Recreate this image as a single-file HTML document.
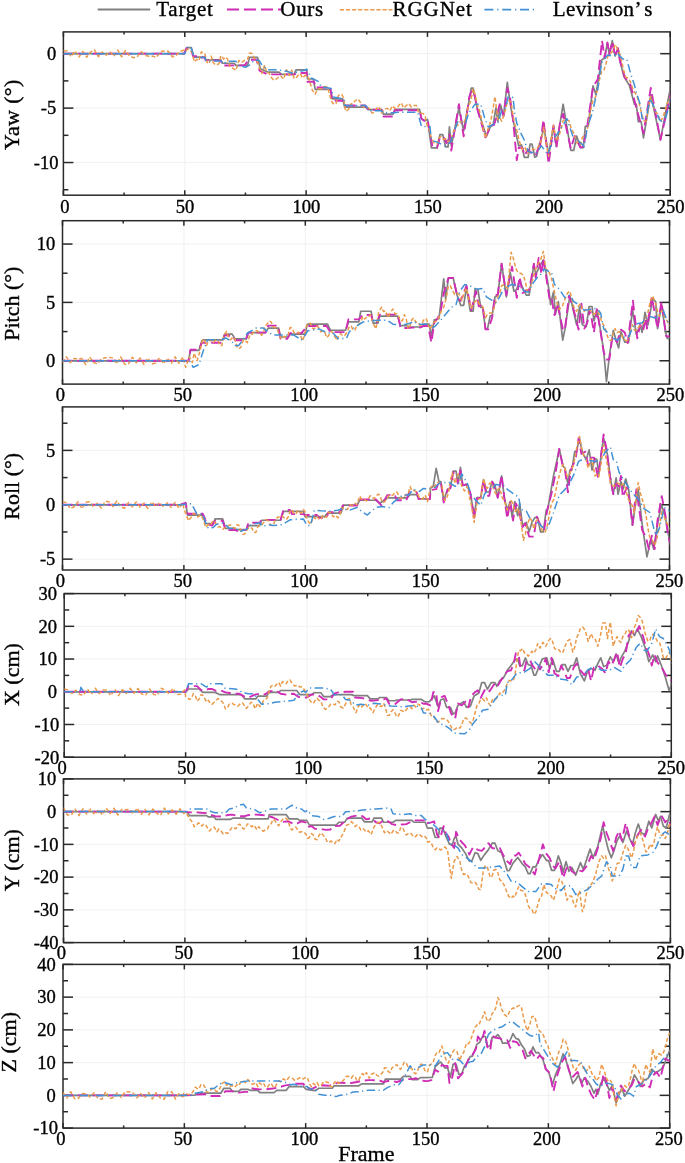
<!DOCTYPE html><html><head><meta charset="utf-8"><style>
html,body{margin:0;padding:0;background:#fff;overflow:hidden}
svg{display:block;will-change:transform}
text{font-family:"Liberation Serif", serif;fill:#000;stroke:#000;stroke-width:0.35px}
.tk{font-size:18.5px}
.lb{font-size:22px}
.lg{font-size:21px}
.fr{fill:none;stroke:#2a2a2a;stroke-width:1.5}
.ti{stroke:#2a2a2a;stroke-width:1.5}
.gr{stroke:#efefef;stroke-width:0.9}
polyline{fill:none;stroke-linejoin:round;stroke-linecap:butt}
.t{stroke:#808080;stroke-width:1.7}
.o{stroke:#cf2db6;stroke-width:1.9;stroke-dasharray:10 4.8}
.r{stroke:#ea9a4a;stroke-width:1.5;stroke-dasharray:4 2.2}
.v{stroke:#4291d6;stroke-width:1.5;stroke-dasharray:8.5 3.4 1.2 3.4}
</style></head><body>
<svg width="685" height="1163" viewBox="0 0 685 1163">
<line x1="97.7" y1="9.6" x2="150.2" y2="9.6" stroke="#808080" stroke-width="2"/>
<text class="lg" x="156.3" y="15.9" letter-spacing="0.7">Target</text>
<line x1="227" y1="9.5" x2="281" y2="9.5" stroke="#cf2db6" stroke-width="2" stroke-dasharray="12 5"/>
<text class="lg" x="280.3" y="15.9" letter-spacing="0.67">Ours</text>
<line x1="339.8" y1="9.7" x2="392.4" y2="9.7" stroke="#ea9a4a" stroke-width="1.6" stroke-dasharray="4.2 1.9"/>
<text class="lg" x="392.6" y="15.9" letter-spacing="0.9">RGGNet</text>
<line x1="484.4" y1="9.7" x2="534" y2="9.7" stroke="#4291d6" stroke-width="1.8" stroke-dasharray="9 3.8 1.2 3.8"/>
<text class="lg" x="552.8" y="15.9" letter-spacing="0.45">Levinson’<tspan dx="3.5">s</tspan></text>
<line class="gr" x1="184.76" y1="31.9" x2="184.76" y2="195.2"/>
<line class="gr" x1="306.12" y1="31.9" x2="306.12" y2="195.2"/>
<line class="gr" x1="427.48" y1="31.9" x2="427.48" y2="195.2"/>
<line class="gr" x1="548.84" y1="31.9" x2="548.84" y2="195.2"/>
<line class="gr" x1="63.4" y1="53.67" x2="670.2" y2="53.67"/>
<line class="gr" x1="63.4" y1="108.11" x2="670.2" y2="108.11"/>
<line class="gr" x1="63.4" y1="162.54" x2="670.2" y2="162.54"/>
<line class="ti" x1="63.4" y1="53.67" x2="73.4" y2="53.67"/>
<line class="ti" x1="660.2" y1="53.67" x2="670.2" y2="53.67"/>
<line class="ti" x1="63.4" y1="108.11" x2="73.4" y2="108.11"/>
<line class="ti" x1="660.2" y1="108.11" x2="670.2" y2="108.11"/>
<line class="ti" x1="63.4" y1="162.54" x2="73.4" y2="162.54"/>
<line class="ti" x1="660.2" y1="162.54" x2="670.2" y2="162.54"/>
<line class="ti" x1="63.4" y1="80.89" x2="68.4" y2="80.89"/>
<line class="ti" x1="665.2" y1="80.89" x2="670.2" y2="80.89"/>
<line class="ti" x1="63.4" y1="135.32" x2="68.4" y2="135.32"/>
<line class="ti" x1="665.2" y1="135.32" x2="670.2" y2="135.32"/>
<line class="ti" x1="63.4" y1="189.76" x2="68.4" y2="189.76"/>
<line class="ti" x1="665.2" y1="189.76" x2="670.2" y2="189.76"/>
<line class="ti" x1="63.4" y1="195.2" x2="63.4" y2="190.2"/>
<line class="ti" x1="63.4" y1="31.9" x2="63.4" y2="36.9"/>
<line class="ti" x1="124.08" y1="195.2" x2="124.08" y2="192.5"/>
<line class="ti" x1="124.08" y1="31.9" x2="124.08" y2="34.6"/>
<line class="ti" x1="184.76" y1="195.2" x2="184.76" y2="190.2"/>
<line class="ti" x1="184.76" y1="31.9" x2="184.76" y2="36.9"/>
<line class="ti" x1="245.44" y1="195.2" x2="245.44" y2="192.5"/>
<line class="ti" x1="245.44" y1="31.9" x2="245.44" y2="34.6"/>
<line class="ti" x1="306.12" y1="195.2" x2="306.12" y2="190.2"/>
<line class="ti" x1="306.12" y1="31.9" x2="306.12" y2="36.9"/>
<line class="ti" x1="366.8" y1="195.2" x2="366.8" y2="192.5"/>
<line class="ti" x1="366.8" y1="31.9" x2="366.8" y2="34.6"/>
<line class="ti" x1="427.48" y1="195.2" x2="427.48" y2="190.2"/>
<line class="ti" x1="427.48" y1="31.9" x2="427.48" y2="36.9"/>
<line class="ti" x1="488.16" y1="195.2" x2="488.16" y2="192.5"/>
<line class="ti" x1="488.16" y1="31.9" x2="488.16" y2="34.6"/>
<line class="ti" x1="548.84" y1="195.2" x2="548.84" y2="190.2"/>
<line class="ti" x1="548.84" y1="31.9" x2="548.84" y2="36.9"/>
<line class="ti" x1="609.52" y1="195.2" x2="609.52" y2="192.5"/>
<line class="ti" x1="609.52" y1="31.9" x2="609.52" y2="34.6"/>
<line class="ti" x1="670.2" y1="195.2" x2="670.2" y2="190.2"/>
<line class="ti" x1="670.2" y1="31.9" x2="670.2" y2="36.9"/>
<rect class="fr" x="63.4" y="31.9" width="606.8" height="163.3"/>
<g clip-path="url(#c0)">
<clipPath id="c0"><rect x="63.4" y="31.9" width="606.8" height="163.3"/></clipPath>
<polyline class="t" points="63.4,53.67 184.27,53.67 186.64,47.59 191.39,47.59 193.76,57.08 204.67,57.08 205.62,59.93 220.8,59.93 222.23,63.25 234.09,63.25 235.99,65.43 247.59,65.4 249.49,57.34 257.55,57.34 260.4,68.72 262.77,69.67 267.52,72.04 278.91,72.04 281.75,74.42 294.09,74.42 295.99,69.86 305,69.86 306.64,69.87 307.59,78.98 313.28,78.98 315.18,89.42 330.36,89.42 332.26,98.91 342.7,98.91 344.6,107.07 365.47,107.07 368.32,109.72 381.61,109.72 383.5,114.09 392.99,114.09 394.89,109.34 419.56,109.34 421.46,118.83 425.26,120.73 427.59,119.34 431.39,147.81 437.08,147.81 439.93,134.53 442.77,134.53 445.62,146.86 448.09,146.86 449.42,126.93 451.31,145.91 458.91,107.96 463.65,130.73 471.24,88.03 473.14,88.03 476.93,107.01 486.42,136.42 490.22,126.93 493.07,125.04 495.91,107.96 497.81,121.24 500.66,105.11 503.5,116.5 507.3,82.34 510.15,103.21 512.99,119.34 518.69,145.91 521.53,144.96 524.38,157.3 528.18,157.3 530.07,144.01 531.97,144.01 534.82,157.3 536.72,156.35 539.56,143.07 540,143.73 543.85,127.35 548.67,154.33 553.49,126.39 556.38,146.62 563.12,104.23 570.83,150.47 573.72,150.47 576.61,136.02 580.47,147.58 583.36,147.58 585.28,126.39 588.18,126.39 592.99,85.92 595.88,94.59 601.66,59.91 604.55,57.98 607.45,42.56 609.37,55.09 612.26,40.64 615.15,56.05 618.04,48.34 619.97,60.87 623.82,76.28 629.61,85.92 634.42,104.23 636.35,104.23 638.28,121.57 641.17,121.57 643.48,137.95 650.8,94.59 660.44,139.88 672,79.18"/>
<polyline class="o" points="63.4,53.67 184.27,53.67 186.64,48.07 190.44,48.07 193.28,56.32 199.45,56.32 199.93,57.55 205.15,57.55 205.62,60.4 220.8,60.4 222.23,65.43 227.45,65.43 244.74,65.4 248.54,59.71 256.61,59.71 259.45,70.62 267.52,74.42 294.09,74.42 298.83,72.99 305,72.99 306.64,72.34 307.59,81.82 314.23,81.82 315.18,87.52 330.36,87.52 332.26,100.8 343.65,100.8 344.6,105.55 365.47,105.55 368.32,109.72 381.61,109.72 383.5,116.55 392.99,116.55 394.89,110.29 419.56,110.29 421.46,118.83 425.26,121.68 427.59,120.29 432.34,145.91 437.08,147.81 439.93,137.37 443.72,137.37 446.57,143.07 449.42,134.53 451.31,150.66 458.91,104.16 463.65,136.42 469.34,96.57 472.19,89.93 475.04,96.57 476.93,107.96 485.47,137.37 491.17,125.04 494.01,125.04 496.86,115.55 499.71,104.16 503.5,115.55 507.3,88.03 510.15,98.47 512.99,119.34 516.79,160.15 518.69,147.81 522.48,147.81 524.38,155.4 528.18,149.71 531.97,153.5 535.77,155.4 539.56,144.01 540,146.62 543.47,119.64 548.67,163.96 553.49,125.42 556.38,147.58 560.23,121.57 563.12,113.86 570.83,148.55 574.69,136.02 580.47,147.58 583.36,146.62 587.21,126.39 592.99,86.88 597.81,79.18 602.05,40.64 604.55,57.98 607.45,42.56 609.37,54.12 612.26,41.6 615.15,56.05 618.04,48.34 619.97,60.87 624.79,77.25 630.57,84.96 636.35,108.08 643.48,133.13 650.8,87.85 660.44,139.88 672,88.81"/>
<polyline class="r" points="63.4,50.77 67.28,51.01 71.17,56.64 75.05,50.89 78.93,57.15 82.82,51.41 86.7,57.19 90.58,52.07 94.47,49.76 98.35,56.71 102.24,52.13 106.12,55.32 110,51.57 113.89,56.33 117.77,50.06 121.65,56.77 125.54,50.51 129.42,55.87 133.3,57.66 137.19,56.94 141.07,51.6 144.95,55.35 148.84,56.17 152.72,56.14 156.6,57.29 160.49,51.65 164.37,51 168.26,51.18 172.14,56.74 176.02,55.84 179.91,51.34 183.79,50.27 185.69,51.39 187.59,49.01 190.44,50.44 192.34,53.28 194.23,61.82 196.61,59.42 198.98,60.88 201.35,51.86 204.67,53.28 207.52,63.72 209.42,62.26 211.31,56.13 213.21,62.77 216.06,65.15 218.91,63.72 220.8,55.66 223.65,58.98 225.55,57.08 227.45,58.98 230.29,67.52 233.14,68.47 235.99,70.36 238.83,60.4 241.68,62.45 244.53,60.4 245.69,60.18 247.59,59.23 249.49,53.07 252.34,53.54 254.23,58.28 257.08,61.13 259.45,67.77 261.82,73.47 264.67,64.93 266.57,72.52 268.94,72.96 271.31,77.26 273.53,80.11 275.74,79.32 277.96,77.74 280.8,76.02 283.65,79.16 286.5,69.67 289.34,75.36 291.72,70.15 294.09,78.21 295.99,78.27 297.88,75.36 300.26,73.61 302.63,78.11 305,75.36 307.24,75.39 309.49,80.88 312.34,90.16 315.18,94.16 317.08,89.86 318.98,88.47 321.82,88.92 324.67,86.57 326.57,86.63 328.47,90.36 331.31,100.8 333.69,104.33 336.06,103.65 337.96,96.36 339.85,94.16 341.75,94.48 343.65,97.96 345.55,111.24 348.39,109.67 351.24,103.65 353.14,103.63 355.04,100.8 357.88,99 360.73,102.7 363.58,107.42 366.42,107.45 369.27,108.28 372.12,113.14 374.96,111.96 377.81,106.5 379.71,108.07 381.61,113.14 384.45,108.99 387.3,108.39 389.83,110.81 392.36,105.77 394.89,108.39 396.79,108.57 398.69,105.55 401.22,102.89 403.75,107.97 406.28,105.55 408.81,103.56 411.34,106.98 413.87,105.55 416.4,105.5 418.93,113.01 421.46,113.14 423.36,113.64 425.26,116.93 427.3,126.22 429.34,129.5 431.39,138.32 434.23,143.41 437.08,144.01 438.98,138.11 440.88,136.42 443.41,139.54 445.94,138.71 448.47,142.12 450.84,139.72 453.21,132.63 455.58,127.01 457.96,125.04 460.49,121.3 463.02,123.43 465.55,119.34 468.08,107.26 470.61,101.42 473.14,88.98 475.04,94.09 476.93,104.16 478.83,108.58 480.73,115.55 483.1,128.53 485.47,138.32 487.85,129.31 490.22,123.14 492.59,111.25 494.96,96.57 497.81,119.34 499.71,117.58 501.61,121.24 504.45,113.82 507.3,102.26 509.2,100.51 511.09,102.26 512.99,115.16 514.89,125.04 516.79,130.08 518.69,138.32 520.58,145.55 522.48,149.71 525.01,147.65 527.54,153.74 530.07,151.61 532.92,149.04 535.77,149.71 538.61,146.47 541.46,140.22 543.85,127.35 546.26,143.63 548.67,156.26 551.08,139.21 553.49,125.42 556.38,140.84 558.63,136.79 560.88,129.44 563.12,120.61 566.01,119.39 568.91,120.61 571.31,128.55 573.72,133.13 576.61,142.77 578.54,141.53 580.47,144.69 582.39,137.36 584.32,135.06 586.25,132.52 588.18,125.42 590.58,110.53 592.99,100.37 595.4,97.35 597.81,88.81 599.74,77.95 601.66,71.47 603.59,71.06 605.52,65.69 607.45,57.28 609.37,54.12 612.26,51.68 615.15,44.49 618.04,50.27 619.97,54.04 621.9,61.83 623.82,71.35 625.75,77.25 628.16,78.12 630.57,82.07 633.46,90.88 636.35,94.59 639.24,103.56 642.13,115.79 644.06,120.89 645.99,121.57 648.39,106.91 650.8,96.52 653.21,105.6 655.62,111.93 658.03,114.17 660.44,121.57 662.85,117.35 665.26,110.01 667.5,102.29 669.75,101.02 672,92.66"/>
<polyline class="v" points="63.4,53.67 184.74,53.67 187.12,47.59 190.91,47.12 194.23,57.55 205.15,57.55 206.09,60.88 220.8,60.88 223.65,63.72 227.45,61.35 235.99,61.35 237.88,65.62 245.69,67.3 250.44,64.45 254.23,60.18 258.98,60.18 262.77,66.35 268.47,69.86 277.96,69.86 287.45,71.57 293.14,73.47 296.93,72.04 305,70.15 306.64,69.11 311.39,78.03 318.98,81.82 320.88,86.57 331.31,88.47 333.21,97.01 343.65,98.91 345.55,105.55 365.47,105.55 370.22,110.86 381.61,110.86 383.5,112.76 394.89,112.76 396.79,112.19 417.66,112.19 421.46,126.42 430,126.8 431.39,140.22 437.08,142.12 444.67,145.91 450.36,142.12 457.96,121.24 465.55,123.14 468.39,113.65 475.04,104.16 480.73,104.16 484.53,117.45 488.32,126.93 494.01,124.09 497.81,123.14 501.61,110.8 505.4,107.96 508.25,96.57 512.99,97.52 514.89,113.65 516.79,123.14 520.58,132.63 524.38,140.22 528.18,151.61 535.77,153.5 541.46,145.91 547.71,154.33 553.49,138.91 559.27,131.2 566.98,118.68 573.72,138.91 576.61,138.91 584.32,146.62 587.21,127.35 592.03,113.86 597.81,88.81 601.66,62.8 607.45,55.09 613.23,56.05 617.08,53.16 622.86,58.94 626.72,58.94 630.57,73.39 634.42,84.96 636.35,92.66 640.2,104.23 642.13,118.68 645.99,118.68 649.84,98.45 653.69,106.15 659.47,119.64 664.29,123.5 672,94.59"/>
</g>
<text class="tk" x="56.2" y="59.97" text-anchor="end">0</text>
<text class="tk" x="56.2" y="114.41" text-anchor="end">-5</text>
<text class="tk" x="58.4" y="168.84" text-anchor="end">-10</text>
<text class="tk" x="64.8" y="213.1" text-anchor="middle">0</text>
<text class="tk" x="185.06" y="213.1" text-anchor="middle">50</text>
<text class="tk" x="306.42" y="213.1" text-anchor="middle">100</text>
<text class="tk" x="427.78" y="213.1" text-anchor="middle">150</text>
<text class="tk" x="549.14" y="213.1" text-anchor="middle">200</text>
<text class="tk" x="670.5" y="213.1" text-anchor="middle">250</text>
<text class="lb" transform="translate(19.2,114.7) rotate(-90)" letter-spacing="0.35" text-anchor="middle">Yaw (°)</text>
<line class="gr" x1="183.9" y1="220.7" x2="183.9" y2="384.1"/>
<line class="gr" x1="305.3" y1="220.7" x2="305.3" y2="384.1"/>
<line class="gr" x1="426.7" y1="220.7" x2="426.7" y2="384.1"/>
<line class="gr" x1="548.1" y1="220.7" x2="548.1" y2="384.1"/>
<line class="gr" x1="62.5" y1="360.76" x2="669.5" y2="360.76"/>
<line class="gr" x1="62.5" y1="302.4" x2="669.5" y2="302.4"/>
<line class="gr" x1="62.5" y1="244.04" x2="669.5" y2="244.04"/>
<line class="ti" x1="62.5" y1="360.76" x2="72.5" y2="360.76"/>
<line class="ti" x1="659.5" y1="360.76" x2="669.5" y2="360.76"/>
<line class="ti" x1="62.5" y1="302.4" x2="72.5" y2="302.4"/>
<line class="ti" x1="659.5" y1="302.4" x2="669.5" y2="302.4"/>
<line class="ti" x1="62.5" y1="244.04" x2="72.5" y2="244.04"/>
<line class="ti" x1="659.5" y1="244.04" x2="669.5" y2="244.04"/>
<line class="ti" x1="62.5" y1="331.58" x2="67.5" y2="331.58"/>
<line class="ti" x1="664.5" y1="331.58" x2="669.5" y2="331.58"/>
<line class="ti" x1="62.5" y1="273.22" x2="67.5" y2="273.22"/>
<line class="ti" x1="664.5" y1="273.22" x2="669.5" y2="273.22"/>
<line class="ti" x1="62.5" y1="384.1" x2="62.5" y2="379.1"/>
<line class="ti" x1="62.5" y1="220.7" x2="62.5" y2="225.7"/>
<line class="ti" x1="123.2" y1="384.1" x2="123.2" y2="381.4"/>
<line class="ti" x1="123.2" y1="220.7" x2="123.2" y2="223.4"/>
<line class="ti" x1="183.9" y1="384.1" x2="183.9" y2="379.1"/>
<line class="ti" x1="183.9" y1="220.7" x2="183.9" y2="225.7"/>
<line class="ti" x1="244.6" y1="384.1" x2="244.6" y2="381.4"/>
<line class="ti" x1="244.6" y1="220.7" x2="244.6" y2="223.4"/>
<line class="ti" x1="305.3" y1="384.1" x2="305.3" y2="379.1"/>
<line class="ti" x1="305.3" y1="220.7" x2="305.3" y2="225.7"/>
<line class="ti" x1="366" y1="384.1" x2="366" y2="381.4"/>
<line class="ti" x1="366" y1="220.7" x2="366" y2="223.4"/>
<line class="ti" x1="426.7" y1="384.1" x2="426.7" y2="379.1"/>
<line class="ti" x1="426.7" y1="220.7" x2="426.7" y2="225.7"/>
<line class="ti" x1="487.4" y1="384.1" x2="487.4" y2="381.4"/>
<line class="ti" x1="487.4" y1="220.7" x2="487.4" y2="223.4"/>
<line class="ti" x1="548.1" y1="384.1" x2="548.1" y2="379.1"/>
<line class="ti" x1="548.1" y1="220.7" x2="548.1" y2="225.7"/>
<line class="ti" x1="608.8" y1="384.1" x2="608.8" y2="381.4"/>
<line class="ti" x1="608.8" y1="220.7" x2="608.8" y2="223.4"/>
<line class="ti" x1="669.5" y1="384.1" x2="669.5" y2="379.1"/>
<line class="ti" x1="669.5" y1="220.7" x2="669.5" y2="225.7"/>
<rect class="fr" x="62.5" y="220.7" width="607" height="163.4"/>
<g clip-path="url(#c1)">
<clipPath id="c1"><rect x="62.5" y="220.7" width="607" height="163.4"/></clipPath>
<polyline class="t" points="62.5,360.8 180,360.8 188.54,360.73 190.44,350.29 198.98,350.29 201.82,340.8 203.72,339.85 222.7,339.85 224.6,334.16 232.19,334.16 235.04,338.91 246.42,338.91 248.32,332.64 265.4,332.64 268.25,328.09 278.69,328.09 280.58,337.01 288.18,337.01 290.07,334.16 305.26,334.16 307.15,324.67 307.59,324.16 327.52,324.16 330.36,330.23 345.55,330.23 348.39,321.88 358.83,321.88 360.73,311.26 371.17,311.26 373.07,323.21 377.81,323.21 379.71,316.19 397.74,316.19 400.58,325.68 406.28,325.68 410.07,327.01 421.46,327.01 423.36,324.16 429.05,324.16 431.39,335.84 434.23,319.71 438.98,318.76 443.72,278.91 445.62,298.83 448.47,277.96 453.21,277.96 457.01,295.04 460.8,305.47 463.65,305.47 466.5,287.45 470.29,311.17 473.14,311.17 475.04,289.34 477.88,289.34 480.73,307.37 482.63,307.37 485.47,329.2 487.37,329.2 490.22,315.91 492.12,315.91 494.96,296.93 497.81,295.04 501.61,263.72 506.35,296.93 510.15,272.26 513.94,291.24 516.79,289.34 519.64,279.85 522.48,287.45 526.28,295.04 529.12,295.04 533.87,264.67 535.77,274.16 539.56,266.57 543.36,259.93 545.78,270.83 548.67,288.18 550.6,304.55 553.49,292.03 555.42,314.19 558.31,301.66 562.74,340.2 565.05,328.64 569.87,295.88 571.8,303.59 576.61,324.79 579.5,307.45 582.39,324.79 586.25,326.72 589.14,306.48 592.03,306.48 593.96,320.93 596.85,309.37 599.74,325.75 603.59,349.84 606.48,381.64 609.37,355.62 613.23,330.57 616.12,340.2 618.62,347.91 620.93,331.53 624.79,342.13 628.64,342.13 632.5,309.37 636.35,334.42 640.2,324.79 642.13,332.5 645.02,312.26 647.91,324.79 652.73,298.77 655.62,301.66 657.55,328.64 661.4,303.59 665.26,330.57 667.18,338.28 672,338.28"/>
<polyline class="o" points="62.5,360.8 180,360.8 188.54,360.73 190.44,349.72 198.98,349.72 201.82,342.7 222.7,342.7 224.6,335.11 233.14,336.06 235.04,340.23 245.47,340.23 248.32,332.64 265.4,332.64 268.25,325.62 277.74,325.62 280.58,338.91 287.23,338.91 290.07,333.21 301.46,333.21 305.26,328.47 307.59,326.06 326.57,326.06 330.36,332.13 345.55,332.13 348.39,319.42 358.83,319.42 362.63,315.05 371.17,315.05 373.07,322.26 376.86,322.26 379.71,314.67 397.74,314.67 400.58,327.96 408.18,327.96 411.97,327.58 419.56,327.58 423.36,326.06 428.1,326.06 431.39,342.48 434.23,322.55 438.03,317.81 440.88,310.22 443.72,293.14 448.47,277.96 453.21,277.96 457.96,298.83 460.8,300.73 463.65,293.14 466.5,285.55 471.24,310.22 475.99,291.24 478.83,306.42 482.63,304.53 485.47,329.2 488.32,329.2 492.12,317.81 494.96,295.99 497.81,294.09 501.61,263.72 506.35,295.04 512.04,266.57 516.79,297.88 519.64,277.01 522.48,293.14 526.28,290.29 529.12,290.29 533.87,263.72 535.77,277.96 538.61,258.03 541.46,274.16 543.36,258.03 546.74,280.47 549.64,299.74 551.56,297.81 554.45,315.15 557.34,303.59 563.12,330.57 565.05,328.64 568.91,295.88 571.8,303.59 575.65,317.08 578.54,329.61 581.43,303.59 584.32,328.64 587.21,322.86 590.1,309.37 593.96,332.5 596.85,309.37 600.7,332.5 603.59,351.77 606.48,359.47 609.37,359.47 612.26,337.31 614.19,338.28 617.08,342.13 620.93,329.61 624.79,332.5 627.68,343.09 632.88,300.7 637.31,338.28 640.2,324.79 643.09,330.57 645.99,318.04 646.95,328.64 651.77,296.85 657.55,328.64 661.4,301.66 666.22,336.35 672,336.35"/>
<polyline class="r" points="62.5,362.65 66.38,356.8 70.27,362.6 74.15,358.44 78.03,358.72 81.92,358.5 85.8,364.63 89.68,356.99 93.57,362.42 97.45,363.77 101.34,358.82 105.22,357.84 109.1,357.37 112.99,357.88 116.87,363.83 120.75,356.91 124.64,364.25 128.52,363.93 132.4,357.24 136.29,362.76 140.17,357.97 144.05,364.61 147.94,358.01 151.82,363.95 155.7,363.07 159.59,357.84 163.47,363.79 167.36,358.22 171.24,363.62 175.12,356.81 179.01,363.38 182.89,356.98 185.69,367.37 189.49,356.93 192.34,362.63 194.23,353.14 197.08,360.73 199.93,351.24 202.77,338.91 204.67,340.71 206.57,345.55 208.47,340.02 210.36,339.85 212.26,343.06 214.16,341.75 216.06,339.72 217.96,340.8 219.85,345.48 221.75,345.55 224.12,335.68 226.5,331.31 228.39,337.09 230.29,339.85 233.14,337.01 235.04,339.32 236.93,346.5 238.83,348.93 240.73,347.45 242.63,341.43 244.53,339.85 247.37,342.7 250.22,334.16 252.12,334.27 254.01,331.31 256.86,330.58 259.71,333.21 261.61,335.25 263.5,332.26 265.4,325.73 267.3,323.72 269.2,320.94 271.09,321.82 272.99,326.55 274.89,327.52 276.79,328.09 278.69,333.21 280.58,338 282.48,338.91 284.38,336.2 286.28,337.01 288.18,334.59 290.07,327.52 291.97,327.79 293.87,332.26 296.24,333.52 298.61,332.26 300.51,335.23 302.41,340.8 304.31,335.98 306.2,326.57 308.32,323.11 310.44,323.21 312.34,328.02 314.23,328.91 316.61,325.83 318.98,327.96 320.88,331.97 322.77,330.8 324.67,331.83 326.57,337.45 328.47,335.93 330.36,331.75 332.26,331.9 334.16,335.55 337.01,340.29 338.91,334.37 340.8,333.65 342.7,335.99 344.6,335.55 347.45,331.75 349.34,326.47 351.24,326.06 353.14,330.42 355.04,329.85 356.93,325.52 358.83,324.16 360.73,322.75 362.63,316.57 364.53,318.96 366.42,317.52 368.32,317.52 370.22,314.67 373.07,323.21 375.91,328.91 378.76,311.82 381.61,307.08 383.5,311.59 385.4,310.88 388.25,317.52 390.62,311.94 392.99,308.98 394.89,313.65 396.79,313.72 398.69,316.23 400.58,321.31 402.48,320.51 404.38,314.67 406.28,319.09 408.18,328.91 410.07,325.69 411.97,319.42 413.87,318.07 415.77,322.26 417.66,321.98 419.56,325.11 421.46,324.98 423.36,320.36 426.2,318.47 428.32,325.05 430.44,329.2 432.81,322.83 435.18,321.61 437.55,320.4 439.93,314.96 441.82,309.59 443.72,307.37 446.09,298.72 448.47,285.55 450.36,285.86 452.26,290.29 454.64,294.41 457.01,293.14 459.38,294.65 461.75,300.73 464.12,292.72 466.5,288.39 468.87,299.91 471.24,308.32 474.09,302.61 476.93,299.78 479.78,304.85 482.63,306.42 485.47,317.81 487.85,313.52 490.22,313.07 492.12,312.98 494.01,308.32 495.91,300.84 497.81,296.93 499.71,293.32 501.61,285.55 504.45,284.9 507.3,288.39 509.2,272.65 511.09,252.34 513.47,258.82 515.84,268.47 518.21,272.77 520.58,273.21 523.43,275.11 525.33,281.91 527.23,291.24 529.6,289.28 531.97,281.75 534.82,271.31 537.66,264.67 540.51,259.66 543.36,251.39 545.78,268.91 548.67,271 551.56,278.54 554.45,292.03 556.86,302.64 559.27,309.37 562.16,306.75 565.05,298.77 567.46,293.06 569.87,291.07 572.76,303.59 574.69,309.08 576.61,311.3 578.54,306.02 580.47,303.59 582.39,310.02 584.32,311.3 587.21,308.51 590.1,310.34 592.99,314 595.88,313.23 597.81,311.43 599.74,315.15 601.66,321.71 603.59,324.79 605.52,329.13 607.45,336.35 609.37,340.14 611.3,340.2 613.23,332.84 615.15,328.64 617.08,332.56 619.01,331.53 620.93,333.33 622.86,338.28 625.75,340.69 628.64,340.2 630.57,330.36 632.5,324.79 634.42,330.32 636.35,330.57 639.24,326.42 642.13,324.79 645.02,320.55 647.91,312.26 650.32,301.4 652.73,295.88 655.62,303.59 657.55,311.42 659.47,316.12 661.4,311.01 663.33,311.3 665.26,318.81 667.18,320.93 669.59,325.47 672,325.75"/>
<polyline class="v" points="62.5,360.8 180,360.8 189.49,360.73 193.28,367.37 198.98,364.53 202.77,352.19 207.52,339.85 221.75,339.85 225.55,337.96 232.19,341.75 235.04,345.55 238.83,345.55 247.37,333.21 255.91,328.09 263.5,328.09 267.3,331.31 272.99,335.11 293.87,335.11 301.46,339.85 305.26,335.11 307.59,330.8 318.98,328.91 324.67,331.75 329.42,332.7 332.26,332.13 337.96,338.39 346.5,338.39 349.34,331.75 355.04,327.01 362.63,322.26 366.42,321.31 377.81,320.36 387.3,320.36 392.99,324.16 402.48,325.11 410.07,323.21 413.87,321.31 417.66,324.16 430,324.16 431.39,328.25 435.18,326.35 442.77,317.81 451.31,307.37 456.06,304.53 459.85,291.24 464.6,284.6 469.34,285.55 476.93,289.34 482.63,288.39 486.42,296.93 495.91,302.63 499.71,296.93 503.5,289.34 511.09,284.6 518.69,285.55 524.38,291.24 528.18,292.19 531.97,284.6 537.66,277.01 543.36,272.26 543.85,268.91 551.56,272.76 554.45,284.32 559.27,289.14 565.05,297.81 569.87,294.92 573.72,301.66 578.54,304.55 584.32,310.34 590.1,309.37 594.92,308.41 597.81,309.37 600.7,313.23 603.59,328.64 608.41,333.46 613.23,338.28 617.08,340.2 620.93,337.31 628.64,337.31 632.5,327.68 636.35,323.82 642.13,322.86 647.91,316.12 655.62,318.04 663.33,310.34 667.18,320.93 672,325.75"/>
</g>
<text class="tk" x="55.3" y="367.06" text-anchor="end">0</text>
<text class="tk" x="55.3" y="308.7" text-anchor="end">5</text>
<text class="tk" x="55.3" y="250.34" text-anchor="end">10</text>
<text class="tk" x="60.3" y="400.8" text-anchor="middle">0</text>
<text class="tk" x="182.8" y="400.8" text-anchor="middle">50</text>
<text class="tk" x="304.2" y="400.8" text-anchor="middle">100</text>
<text class="tk" x="425.6" y="400.8" text-anchor="middle">150</text>
<text class="tk" x="547" y="400.8" text-anchor="middle">200</text>
<text class="tk" x="670.25" y="400.8" text-anchor="middle">250</text>
<text class="lb" transform="translate(19.2,303.7) rotate(-90)" letter-spacing="0" text-anchor="middle">Pitch (°)</text>
<line class="gr" x1="183.9" y1="406.9" x2="183.9" y2="570"/>
<line class="gr" x1="305.3" y1="406.9" x2="305.3" y2="570"/>
<line class="gr" x1="426.7" y1="406.9" x2="426.7" y2="570"/>
<line class="gr" x1="548.1" y1="406.9" x2="548.1" y2="570"/>
<line class="gr" x1="62.5" y1="559.13" x2="669.5" y2="559.13"/>
<line class="gr" x1="62.5" y1="504.76" x2="669.5" y2="504.76"/>
<line class="gr" x1="62.5" y1="450.39" x2="669.5" y2="450.39"/>
<line class="ti" x1="62.5" y1="559.13" x2="72.5" y2="559.13"/>
<line class="ti" x1="659.5" y1="559.13" x2="669.5" y2="559.13"/>
<line class="ti" x1="62.5" y1="504.76" x2="72.5" y2="504.76"/>
<line class="ti" x1="659.5" y1="504.76" x2="669.5" y2="504.76"/>
<line class="ti" x1="62.5" y1="450.39" x2="72.5" y2="450.39"/>
<line class="ti" x1="659.5" y1="450.39" x2="669.5" y2="450.39"/>
<line class="ti" x1="62.5" y1="531.94" x2="67.5" y2="531.94"/>
<line class="ti" x1="664.5" y1="531.94" x2="669.5" y2="531.94"/>
<line class="ti" x1="62.5" y1="477.58" x2="67.5" y2="477.58"/>
<line class="ti" x1="664.5" y1="477.58" x2="669.5" y2="477.58"/>
<line class="ti" x1="62.5" y1="423.21" x2="67.5" y2="423.21"/>
<line class="ti" x1="664.5" y1="423.21" x2="669.5" y2="423.21"/>
<line class="ti" x1="62.5" y1="570" x2="62.5" y2="565"/>
<line class="ti" x1="62.5" y1="406.9" x2="62.5" y2="411.9"/>
<line class="ti" x1="123.2" y1="570" x2="123.2" y2="567.3"/>
<line class="ti" x1="123.2" y1="406.9" x2="123.2" y2="409.6"/>
<line class="ti" x1="183.9" y1="570" x2="183.9" y2="565"/>
<line class="ti" x1="183.9" y1="406.9" x2="183.9" y2="411.9"/>
<line class="ti" x1="244.6" y1="570" x2="244.6" y2="567.3"/>
<line class="ti" x1="244.6" y1="406.9" x2="244.6" y2="409.6"/>
<line class="ti" x1="305.3" y1="570" x2="305.3" y2="565"/>
<line class="ti" x1="305.3" y1="406.9" x2="305.3" y2="411.9"/>
<line class="ti" x1="366" y1="570" x2="366" y2="567.3"/>
<line class="ti" x1="366" y1="406.9" x2="366" y2="409.6"/>
<line class="ti" x1="426.7" y1="570" x2="426.7" y2="565"/>
<line class="ti" x1="426.7" y1="406.9" x2="426.7" y2="411.9"/>
<line class="ti" x1="487.4" y1="570" x2="487.4" y2="567.3"/>
<line class="ti" x1="487.4" y1="406.9" x2="487.4" y2="409.6"/>
<line class="ti" x1="548.1" y1="570" x2="548.1" y2="565"/>
<line class="ti" x1="548.1" y1="406.9" x2="548.1" y2="411.9"/>
<line class="ti" x1="608.8" y1="570" x2="608.8" y2="567.3"/>
<line class="ti" x1="608.8" y1="406.9" x2="608.8" y2="409.6"/>
<line class="ti" x1="669.5" y1="570" x2="669.5" y2="565"/>
<line class="ti" x1="669.5" y1="406.9" x2="669.5" y2="411.9"/>
<rect class="fr" x="62.5" y="406.9" width="607" height="163.1"/>
<g clip-path="url(#c2)">
<clipPath id="c2"><rect x="62.5" y="406.9" width="607" height="163.1"/></clipPath>
<polyline class="t" points="62.5,504.8 180,504.8 185.69,503.72 187.59,515.11 202.77,515.11 205.62,523.65 213.21,523.65 215.11,518.91 222.7,518.91 225.55,528.39 234.09,528.39 235.99,529.72 246.42,529.72 248.32,525.55 259.71,525.55 261.61,520.23 280.58,520.23 283.43,511.31 303.36,511.31 305.26,517.01 305.69,516.55 324.67,516.55 327.52,513.14 340.8,513.14 343.65,505.17 356.93,505.17 359.78,500.23 375.91,500.23 379.71,503.27 383.5,500.8 387.3,497.96 407.23,497.96 410.07,494.54 416.72,494.54 418.61,498.91 430,498.91 430.44,488.21 433.28,486.31 436.13,468.28 438.98,481.57 440.88,481.57 443.72,500.55 447.52,489.16 450.36,488.21 453.21,471.13 456.06,471.13 457.96,483.47 460.42,467.34 462.7,485.36 466.5,484.42 470.29,492.96 474.09,515.73 476.93,497.7 480.73,497.7 483.58,479.67 486.42,492.01 489.27,492.01 492.12,481.57 494.96,485.36 497.81,497.7 501.61,475.88 504.45,498.65 507.3,510.04 510.15,501.5 512.04,516.68 514.89,501.5 517.74,515.73 519.64,503.39 522.48,525.22 526.28,522.37 529.12,531.86 531.97,522.37 534.82,517.63 537.66,517.63 540.51,531.86 543.36,531.86 546.2,510.04 547.71,509.61 553.49,475.88 557.34,458.54 559.27,448.91 563.12,466.25 565.05,468.18 567.94,484.55 569.87,470.1 571.8,470.1 574.69,451.8 576.61,450.83 579.5,438.31 582.39,452.76 586.25,459.5 589.14,449.87 592.03,470.1 594.92,458.54 596.85,459.5 598.77,473.96 601.66,450.83 603.59,438.31 607.45,454.69 610.34,477.81 613.23,494.19 616.12,477.81 618.04,494.19 620.93,481.66 622.86,489.37 625.75,478.77 628.64,489.37 632.5,525.02 635.39,504.79 638.28,489.37 642.13,524.06 646.95,556.82 650.8,539.47 653.69,549.11 657.55,524.06 661.4,504.79 665.26,516.35 668.15,533.69 672,551.04"/>
<polyline class="o" points="62.5,504.8 180,504.8 185.69,502.77 187.59,513.78 202.77,513.78 204.67,517.96 206.57,523.65 212.26,525.55 215.11,520.8 222.7,520.8 225.55,530.29 235.04,529.72 236.93,530.86 246.42,529.72 248.32,522.7 259.71,522.7 261.61,519.85 280.58,519.85 283.43,509.99 290.07,509.99 291.97,514.16 303.36,514.16 305.26,515.11 307.59,515.04 317.08,515.04 318.98,517.88 326.57,517.88 328.47,512.19 339.85,512.19 342.7,505.55 356.93,505.55 359.78,499.47 375.91,499.47 381.61,505.55 387.3,495.11 394.89,495.11 396.79,500.23 406.28,500.23 409.12,492.26 416.72,492.26 418.61,498.91 430,498.91 430.44,490.11 436.13,489.16 438.98,481.57 440.88,482.52 443.72,502.45 447.52,490.11 450.36,488.21 453.21,472.08 456.06,477.77 457.96,483.47 460.42,470.18 462.7,485.36 466.5,484.42 470.29,492.96 474.09,518.58 476.93,498.65 480.73,497.7 483.58,479.67 486.42,495.8 489.27,495.8 492.12,481.57 495.91,491.06 497.81,497.7 501.61,474.93 504.45,498.65 507.3,518.58 510.15,501.5 512.99,520.47 515.84,503.39 518.69,510.04 522.48,527.12 525.33,523.32 529.12,536.61 533.87,536.61 536.72,516.68 539.56,523.32 544.31,529.01 547.15,510.04 548.67,504.79 551.56,493.23 555.42,473.96 559.27,448.91 562.16,463.36 565.05,470.1 567.94,492.26 570.83,470.1 575.65,458.54 578.54,438.31 581.43,453.72 585.28,451.8 588.18,465.28 591.07,457.58 593.96,457.58 597.81,476.85 600.7,458.54 603.59,434.45 606.48,448.91 609.37,472.99 613.23,494.19 616.12,483.59 619.01,486.48 620.93,475.88 622.86,497.08 626.72,487.45 629.61,500.93 632.5,525.02 636.35,489.37 642.13,529.84 645.99,537.55 648.88,549.11 651.77,535.62 654.66,549.11 657.55,520.2 661.79,496.12 665.26,514.42 668.15,535.62 672,551.04"/>
<polyline class="r" points="62.5,501.72 66.38,502.61 70.27,508.53 74.15,506.77 78.03,501.76 81.92,508.72 85.8,502.19 89.68,501.71 93.57,507.07 97.45,503.17 101.34,508.14 105.22,501.18 109.1,501.91 112.99,506.59 116.87,500.85 120.75,506.83 124.64,508.17 128.52,502.5 132.4,506.98 136.29,501.99 140.17,507.29 144.05,503.02 147.94,508.48 151.82,501.9 155.7,506.67 159.59,502.51 163.47,506.99 167.36,502.82 171.24,507.44 175.12,502.4 179.01,508.26 182.89,503.12 183.8,508.47 188.54,520.8 191.39,517.01 193.28,513.4 195.18,514.16 198.03,516.98 200.88,515.11 203.25,519.46 205.62,527.45 208.47,524.6 210.36,525.28 212.26,521.75 214.16,520.65 216.06,523.65 217.96,527.1 219.85,526.5 222.7,529.35 225.55,527.45 228.39,525.55 230.77,524.93 233.14,527.45 235.04,528.52 236.93,524.6 238.83,525.27 240.73,530.29 242.63,534.19 244.53,534.09 247.37,529.34 249.74,526.82 252.12,528.39 254.01,532.49 255.91,532.19 257.81,526.6 259.71,525.55 261.61,525.47 263.5,522.7 265.88,519.45 268.25,520.8 271.09,525.55 272.99,525.57 274.89,520.8 277.74,517.07 280.58,517.01 282.48,516.01 284.38,517.96 286.28,519.62 288.18,517.01 290.07,511.32 291.97,509.42 293.87,513.69 295.77,514.16 297.66,510.59 299.56,512.26 301.46,513.06 303.36,509.42 305.26,511.92 307.15,519.85 310.44,524.53 313.28,516.93 315.18,518.66 317.08,515.99 318.98,519.7 320.88,518.83 322.77,515.49 324.67,516.93 326.57,517.23 328.47,512.19 330.84,512.51 333.21,516.93 335.58,515.36 337.96,517.88 339.85,515.36 341.75,507.45 344.6,509.87 347.45,509.34 350.29,504.87 353.14,505.55 355.04,503.26 356.93,504.6 359.78,496.06 362.15,500.25 364.53,499.85 366.42,500.92 368.32,498.91 370.22,495.7 372.12,497.01 374.01,498.87 375.91,497.01 377.81,494.09 379.71,495.11 382.55,502.7 384.93,501.66 387.3,497.96 389.2,495.09 391.09,495.11 392.99,495.13 394.89,492.26 396.79,491.98 398.69,495.11 401.06,498.4 403.43,497.96 405.8,494.56 408.18,494.16 410.07,486.57 411.97,490.86 413.87,490.36 416.72,492.22 419.56,497.96 422.41,499.06 425.26,495.11 427.59,501.5 429.49,491.36 431.39,486.31 433.28,487.4 435.18,485.36 437.08,482.47 438.98,482.52 441.82,485.36 444.67,500.55 446.57,498.58 448.47,492.96 450.36,480.24 452.26,473.03 455.11,483.47 457.96,473.98 459.85,478.2 461.75,486.31 464.6,491.06 467.45,486.31 469.34,496.97 471.24,504.34 474.09,522.37 476.93,503.39 478.83,498.78 480.73,498.65 483.58,478.72 485.47,486.14 487.37,488.21 489.74,483.1 492.12,483.47 494.01,490.65 495.91,493.91 497.81,489.42 499.71,488.21 502.08,497.22 504.45,501.5 507.3,510.04 509.2,506.59 511.09,500.55 512.99,503.52 514.89,511.93 517.74,508.14 520.58,518.58 523.43,540.4 525.33,534.26 527.23,524.27 530.07,517.63 531.97,521.35 533.87,529.01 535.77,521.54 537.66,519.53 539.56,525.69 541.46,529.01 543.36,532.36 545.26,531.86 547.71,524.06 549.64,512.04 551.56,502.86 553.49,500.18 555.42,493.23 557.34,482.46 559.27,475.88 561.2,468.13 563.12,464.32 565.05,468.8 566.98,475.88 568.91,475.88 570.83,471.07 572.76,466.53 574.69,459.5 577.09,445.85 579.5,436.38 581.43,447.49 583.36,454.69 585.77,458.79 588.18,468.18 591.07,458.54 592.99,464.89 594.92,475.88 596.85,474.28 598.77,476.85 601.18,463.26 603.59,445.05 606.48,460.47 608.41,469.63 610.34,483.59 612.74,486.09 615.15,485.52 617.08,483.25 619.01,483.59 620.93,486.36 622.86,483.59 624.79,485.79 626.72,493.23 628.64,499.79 630.57,502.86 632.5,505.91 634.42,512.5 636.35,495.98 638.28,482.63 640.2,492.35 642.13,499.01 644.06,504.89 645.99,515.39 647.91,528.45 649.84,537.55 652.25,540.06 654.66,545.26 657.07,537.92 659.47,525.99 662.36,509.61 664.29,517.1 666.22,522.13 669.11,526.08 672,535.62"/>
<polyline class="v" points="62.5,504.8 180,504.8 191.39,503.72 197.08,514.16 202.77,514.16 206.57,525.55 208.47,528.39 213.21,527.45 216.06,524.6 221.75,522.7 225.55,524.6 229.34,528.39 235.04,528.39 240.73,531.24 246.42,529.34 251.17,524.6 259.71,522.7 263.5,526.5 267.3,524.6 272.99,525.55 282.48,524.6 290.07,519.85 303.36,518.91 307.15,525.55 307.59,525.47 310.44,525.47 313.28,515.04 314.23,510.29 320.88,510.86 328.47,511.24 337.96,510.29 342.7,508.39 349.34,510.29 356.93,507.45 362.63,512.19 367.37,515.04 370.22,512.19 375.91,507.45 381.61,506.5 389.2,507.45 392.99,502.7 402.48,495.11 408.18,495.11 413.87,489.42 419.56,491.31 423.36,488.47 427.59,488.78 435.18,487.26 438.98,483.47 442.77,482.52 449.42,482.52 455.11,486.31 457.96,485.36 461.75,473.98 467.45,483.47 471.24,494.85 476.93,501.5 480.73,505.29 484.53,493.91 488.32,490.11 492.12,489.16 495.91,484.42 503.5,485.36 508.25,490.11 514.89,494.85 518.69,496.75 520.58,509.09 526.28,510.99 530.07,518.58 533.87,520.47 537.66,522.37 543.36,528.07 547.71,527.91 553.49,512.5 559.27,495.15 565.05,489.37 568.91,484.55 573.72,474.92 578.54,461.43 584.32,458.54 590.1,460.47 595.88,461.43 601.66,458.54 605.52,451.8 610.34,446.98 613.23,459.5 616.12,460.47 619.01,472.03 624.79,481.66 632.5,493.23 638.28,499.01 644.06,508.64 649.84,512.5 655.62,535.62 659.47,527.91 664.29,507.68 672,512.5"/>
</g>
<text class="tk" x="55.3" y="565.43" text-anchor="end">-5</text>
<text class="tk" x="55.3" y="511.06" text-anchor="end">0</text>
<text class="tk" x="55.3" y="456.69" text-anchor="end">5</text>
<text class="tk" x="60.3" y="586.9" text-anchor="middle">0</text>
<text class="tk" x="182.8" y="586.9" text-anchor="middle">50</text>
<text class="tk" x="304.2" y="586.9" text-anchor="middle">100</text>
<text class="tk" x="425.6" y="586.9" text-anchor="middle">150</text>
<text class="tk" x="547" y="586.9" text-anchor="middle">200</text>
<text class="tk" x="669.35" y="586.9" text-anchor="middle">250</text>
<text class="lb" transform="translate(19.2,486.3) rotate(-90)" letter-spacing="0" text-anchor="middle">Roll (°)</text>
<line class="gr" x1="185.62" y1="593.6" x2="185.62" y2="757.2"/>
<line class="gr" x1="307.04" y1="593.6" x2="307.04" y2="757.2"/>
<line class="gr" x1="428.46" y1="593.6" x2="428.46" y2="757.2"/>
<line class="gr" x1="549.88" y1="593.6" x2="549.88" y2="757.2"/>
<line class="gr" x1="64.2" y1="724.48" x2="671.3" y2="724.48"/>
<line class="gr" x1="64.2" y1="691.76" x2="671.3" y2="691.76"/>
<line class="gr" x1="64.2" y1="659.04" x2="671.3" y2="659.04"/>
<line class="gr" x1="64.2" y1="626.32" x2="671.3" y2="626.32"/>
<line class="ti" x1="64.2" y1="757.2" x2="74.2" y2="757.2"/>
<line class="ti" x1="661.3" y1="757.2" x2="671.3" y2="757.2"/>
<line class="ti" x1="64.2" y1="724.48" x2="74.2" y2="724.48"/>
<line class="ti" x1="661.3" y1="724.48" x2="671.3" y2="724.48"/>
<line class="ti" x1="64.2" y1="691.76" x2="74.2" y2="691.76"/>
<line class="ti" x1="661.3" y1="691.76" x2="671.3" y2="691.76"/>
<line class="ti" x1="64.2" y1="659.04" x2="74.2" y2="659.04"/>
<line class="ti" x1="661.3" y1="659.04" x2="671.3" y2="659.04"/>
<line class="ti" x1="64.2" y1="626.32" x2="74.2" y2="626.32"/>
<line class="ti" x1="661.3" y1="626.32" x2="671.3" y2="626.32"/>
<line class="ti" x1="64.2" y1="593.6" x2="74.2" y2="593.6"/>
<line class="ti" x1="661.3" y1="593.6" x2="671.3" y2="593.6"/>
<line class="ti" x1="64.2" y1="740.84" x2="69.2" y2="740.84"/>
<line class="ti" x1="666.3" y1="740.84" x2="671.3" y2="740.84"/>
<line class="ti" x1="64.2" y1="708.12" x2="69.2" y2="708.12"/>
<line class="ti" x1="666.3" y1="708.12" x2="671.3" y2="708.12"/>
<line class="ti" x1="64.2" y1="675.4" x2="69.2" y2="675.4"/>
<line class="ti" x1="666.3" y1="675.4" x2="671.3" y2="675.4"/>
<line class="ti" x1="64.2" y1="642.68" x2="69.2" y2="642.68"/>
<line class="ti" x1="666.3" y1="642.68" x2="671.3" y2="642.68"/>
<line class="ti" x1="64.2" y1="609.96" x2="69.2" y2="609.96"/>
<line class="ti" x1="666.3" y1="609.96" x2="671.3" y2="609.96"/>
<line class="ti" x1="64.2" y1="757.2" x2="64.2" y2="752.2"/>
<line class="ti" x1="64.2" y1="593.6" x2="64.2" y2="598.6"/>
<line class="ti" x1="124.91" y1="757.2" x2="124.91" y2="754.5"/>
<line class="ti" x1="124.91" y1="593.6" x2="124.91" y2="596.3"/>
<line class="ti" x1="185.62" y1="757.2" x2="185.62" y2="752.2"/>
<line class="ti" x1="185.62" y1="593.6" x2="185.62" y2="598.6"/>
<line class="ti" x1="246.33" y1="757.2" x2="246.33" y2="754.5"/>
<line class="ti" x1="246.33" y1="593.6" x2="246.33" y2="596.3"/>
<line class="ti" x1="307.04" y1="757.2" x2="307.04" y2="752.2"/>
<line class="ti" x1="307.04" y1="593.6" x2="307.04" y2="598.6"/>
<line class="ti" x1="367.75" y1="757.2" x2="367.75" y2="754.5"/>
<line class="ti" x1="367.75" y1="593.6" x2="367.75" y2="596.3"/>
<line class="ti" x1="428.46" y1="757.2" x2="428.46" y2="752.2"/>
<line class="ti" x1="428.46" y1="593.6" x2="428.46" y2="598.6"/>
<line class="ti" x1="489.17" y1="757.2" x2="489.17" y2="754.5"/>
<line class="ti" x1="489.17" y1="593.6" x2="489.17" y2="596.3"/>
<line class="ti" x1="549.88" y1="757.2" x2="549.88" y2="752.2"/>
<line class="ti" x1="549.88" y1="593.6" x2="549.88" y2="598.6"/>
<line class="ti" x1="610.59" y1="757.2" x2="610.59" y2="754.5"/>
<line class="ti" x1="610.59" y1="593.6" x2="610.59" y2="596.3"/>
<line class="ti" x1="671.3" y1="757.2" x2="671.3" y2="752.2"/>
<line class="ti" x1="671.3" y1="593.6" x2="671.3" y2="598.6"/>
<rect class="fr" x="64.2" y="593.6" width="607.1" height="163.6"/>
<g clip-path="url(#c3)">
<clipPath id="c3"><rect x="64.2" y="593.6" width="607.1" height="163.6"/></clipPath>
<polyline class="t" points="64.2,691.8 180,691.8 185.69,691.8 188.54,688.98 198.98,688.98 202.77,692.39 215.11,692.39 219.85,694.67 241.68,694.67 244.53,698.85 255.91,698.85 257.81,696.19 266.35,696.19 269.2,692.39 278.69,692.39 280.58,690.5 296.72,690.5 299.56,694.29 300,694.67 311.39,694.67 314.23,692.77 320.88,692.77 323.72,696.57 330.36,696.57 333.21,694.67 351.24,694.67 354.09,695.62 367.37,695.62 370.22,698.85 377.81,698.85 379.71,697.52 386.35,697.52 389.2,700.74 394.89,700.74 396.79,699.99 410.07,699.99 411.97,699.42 421.46,699.42 425.26,701.88 429.49,701.61 434.23,695.91 438.03,706.35 440.88,699.71 443.72,698.76 446.57,707.3 450.36,707.3 453.21,713.94 455.11,712.99 457.96,705.4 463.65,701.61 466.5,707.3 470.29,706.35 474.09,695.91 478.83,693.07 481.68,682.63 484.53,682.63 487.37,689.27 491.17,682.63 494.96,682.63 496.86,686.42 499.71,680.73 503.5,677.88 507.3,670.29 511.09,665.55 514.89,659.85 517.74,658.91 519.64,665.55 522.48,665.55 525.33,657.96 528.18,664.6 531.02,665.55 533.87,675.04 535.77,675.04 538.61,667.45 542.41,658.91 546.74,657.81 549.64,668.41 552.53,658.77 556.38,671.3 559.27,671.3 562.16,664.55 565.05,664.55 567.94,671.3 570.83,665.52 573.72,665.52 576.61,657.81 580.47,674.19 584.32,680.93 587.21,672.26 591.07,668.41 594.92,670.34 597.81,663.59 600.7,657.81 603.59,666.48 606.48,665.52 610.34,656.85 613.23,661.66 616.12,653.96 619.01,663.59 620.93,657.81 624.79,651.07 628.64,641.43 631.53,630.83 634.42,635.65 637.31,628.91 641.17,636.61 645.02,647.21 648.88,661.66 652.73,654.92 655.62,661.66 657.55,655.88 661.4,665.52 665.26,677.08 669.11,690.57 672,682.86"/>
<polyline class="o" points="64.2,691.8 180,691.8 185.69,691.8 188.54,686.13 197.08,686.13 200.88,689.93 204.67,690.5 208.47,688.98 212.26,688.98 216.06,690.88 221.75,690.88 225.55,692.39 233.14,693.72 238.83,693.72 244.53,696.57 248.32,697.52 254.96,694.67 259.71,693.72 265.4,694.29 269.2,691.26 276.79,690.88 280.58,693.72 286.28,694.67 293.87,693.72 298.61,696.95 303.36,697.52 306.64,697.52 311.39,694.67 317.08,694.67 320.88,696.95 323.72,699.42 330.36,699.42 334.16,693.72 337.96,692.39 345.55,691.82 353.14,691.82 355.04,697.52 362.63,698.09 366.42,699.42 371.17,700.74 375.91,700.36 383.5,699.42 386.35,698.47 389.2,703.78 394.89,704.16 400.58,699.42 406.28,698.85 411.97,702.26 419.56,701.31 423.36,703.78 425.69,703.5 430.44,705.4 433.28,692.12 436.13,692.12 438.03,711.09 441.82,696.86 444.67,695.91 448.47,705.4 451.31,713.94 455.11,718.69 457.96,703.5 461.75,705.4 465.55,701.61 468.39,707.3 471.24,695.91 475.04,692.12 477.88,690.22 480.73,697.81 484.53,690.22 487.37,693.07 490.22,690.22 494.01,684.53 496.86,687.37 499.71,682.63 503.5,675.99 507.3,671.24 511.09,670.29 513.94,662.7 515.84,653.21 518.69,655.11 520.58,668.39 524.38,670.29 526.28,661.75 530.07,659.85 531.97,664.6 535.77,670.29 539.56,665.55 540,669.37 543.85,663.59 545.78,658.77 548.67,672.26 551.56,657.81 554.45,673.23 558.31,676.12 561.2,665.52 564.09,671.3 566.98,678.04 569.87,678.04 573.72,667.45 576.61,663.59 580.47,670.34 584.32,675.15 588.18,669.37 591.07,680.93 593.96,667.45 597.81,665.52 601.66,668.41 605.52,673.23 608.41,661.66 611.3,665.52 614.19,659.74 617.08,652.03 619.97,667.45 622.86,658.77 625.75,652.99 628.64,635.65 631.53,631.8 635.39,634.69 639.24,626.01 643.09,636.61 645.99,647.21 648.88,653.96 651.77,665.52 654.66,654.92 657.55,662.63 661.4,666.48 665.26,674.19 669.11,679.01 672,680.93"/>
<polyline class="r" points="64.2,688.95 68.08,689.86 71.97,693.37 75.85,690.28 79.73,694.58 83.62,695.03 87.5,689.29 91.38,694.12 95.27,688.2 99.15,693.58 103.04,690.06 106.92,690.03 110.8,695.72 114.69,689.34 118.57,695.59 122.45,689.65 126.34,693.42 130.22,688.26 134.1,693.39 137.99,688.46 141.87,694.12 145.75,694.88 149.64,688.95 153.52,694.44 157.4,695.01 161.29,688.25 165.17,690.19 169.06,693.86 172.94,688.42 176.82,694.66 180.71,694.19 184.59,690.02 185.69,696.57 189.49,699.42 191.39,698.5 193.28,693.72 195.18,695.14 197.08,701.31 198.98,699.32 200.88,694.67 202.77,695.17 204.67,698.47 206.57,702.04 208.47,700.36 210.36,703.65 212.26,704.16 215.11,701.31 217.96,698.47 220.8,700.36 223.18,703.08 225.55,708.91 227.45,707.77 229.34,704.16 232.19,703.26 235.04,705.11 237.88,706.2 240.73,703.21 242.63,702.78 244.53,706.06 246.42,708.42 248.32,706.06 251.17,702.26 253.07,703.13 254.96,708.91 257.81,703.21 259.71,706.68 261.61,705.11 263.5,700.47 265.4,699.42 267.3,697.86 269.2,690.88 271.09,686.07 272.99,685.18 274.89,686.36 276.79,684.23 278.69,682.4 280.58,686.13 282.48,681.6 284.38,682.34 286.28,683.72 288.18,680.44 290.07,679.89 291.97,683.28 294.82,686.11 297.66,685.18 300,687.08 301.9,686.67 303.8,688.98 306.17,692.37 308.54,698.47 311.39,702.26 313.28,703.63 315.18,700.36 317.08,698.39 318.98,700.36 320.88,700.91 322.77,707.01 325.62,709.44 328.47,707.01 330.84,703.92 333.21,704.16 335.11,704.89 337.01,701.31 338.91,701.65 340.8,707.01 343.18,707.98 345.55,704.16 347.45,699.4 349.34,698.47 351.24,704.97 353.14,707.01 355.99,712.7 358.83,705.11 360.73,707.65 362.63,706.06 364.53,703.39 366.42,705.11 368.32,708.35 370.22,707.96 373.07,712.7 375.91,707.01 377.81,704.3 379.71,706.06 381.61,706.6 383.5,703.21 385.4,707.29 387.3,715.55 389.2,715.37 391.09,711.75 392.99,709.67 394.89,712.7 396.79,716.89 398.69,715.55 400.58,710.5 402.48,710.8 404.38,712.11 406.28,709.85 408.18,707.18 410.07,707.01 411.97,708.65 413.87,705.11 415.77,706.93 417.66,704.16 419.56,704.8 421.46,708.91 423.8,708.25 426.17,710.03 428.54,709.2 431.39,715.84 433.28,715.13 435.18,719.64 437.08,722.04 438.98,721.53 441.82,718.45 444.67,718.69 447.52,720.35 450.36,725.33 452.74,729.62 455.11,729.12 457.48,727.05 459.85,728.18 461.75,725.27 463.65,718.69 466.02,717.91 468.39,720.58 471.24,723.43 473.14,720.08 475.04,712.99 476.93,705.81 478.83,703.5 480.73,698.84 482.63,698.76 484.53,700.88 486.42,697.81 488.32,702.82 490.22,705.4 492.12,700.38 494.01,697.81 495.91,698.92 497.81,696.86 499.71,693.15 501.61,694.01 504.45,690.22 507.3,683.58 509.2,680.54 511.09,680.73 512.99,681.16 514.89,675.99 516.79,661.09 518.69,650.36 520.58,650.7 522.48,648.47 524.38,652.89 526.28,653.21 528.18,656.14 530.07,654.16 531.97,651.2 533.87,653.21 535.77,650.06 537.66,643.72 540,648.18 542.89,642.39 545.78,646.25 548.67,640.47 550.6,638.52 552.53,641.43 554.45,648.18 556.38,650.1 558.79,649.58 561.2,652.99 563.12,651.89 565.05,646.25 567.46,640.85 569.87,639.5 572.76,652.03 574.69,647.57 576.61,637.58 578.54,634.13 580.47,627.94 582.88,627.21 585.28,630.83 588.18,641.43 591.07,633.72 592.99,637.79 594.92,638.54 597.81,646.25 600.22,636.62 602.63,623.12 605.52,623.12 607.45,638.54 610.34,622.16 613.23,646.25 615.15,640.15 617.08,636.61 619.01,640.74 620.93,642.39 622.86,636.51 624.79,634.69 626.72,630.11 628.64,629.87 631.53,637.58 634.42,626.98 636.35,622.97 638.28,615.42 641.17,618.31 643.09,624.02 645.02,632.76 647.91,641.43 649.84,640.3 651.77,634.69 653.69,634.21 655.62,637.58 657.55,641.62 659.47,642.39 661.4,648.38 663.33,657.81 665.26,659.11 667.18,655.88 669.49,652.03 672,663.59"/>
<polyline class="v" points="64.2,691.8 80,691.8 80.9,687.3 83.6,691.8 180,691.8 185.69,691.8 188.54,683.66 200.88,683.66 206.57,687.08 210.36,683.66 221.75,683.66 224.6,688.03 235.04,688.98 238.83,689.93 242.63,692.77 248.32,693.72 254.01,693.72 257.81,699.42 261.61,704.16 269.2,703.78 274.89,702.26 293.87,700.36 298.61,693.72 303.36,690.88 305.69,692.39 309.49,688.03 322.77,688.03 330.36,688.98 334.16,694.67 341.75,694.67 345.55,699.42 351.24,700.36 355.04,705.11 360.73,704.16 368.32,705.11 374.01,703.21 381.61,704.16 385.4,705.11 391.09,706.06 398.69,706.44 404.38,707.01 408.18,706.06 415.77,705.68 421.46,707.96 423.36,712.7 423.8,712.99 429.49,712.99 434.23,716.79 438.98,723.43 444.67,725.33 450.36,729.12 453.21,732.92 464.6,733.87 469.34,730.07 473.14,723.43 478.83,716.79 482.63,710.15 488.32,709.2 492.12,703.5 497.81,695.91 505.4,694.96 507.3,682.63 511.09,680.73 516.79,673.14 524.38,672.19 530.07,668.39 533.87,660.8 539.56,666.5 540,667.45 543.85,671.3 547.71,675.15 555.42,675.15 559.27,679.01 566.98,679.97 571.8,684.79 576.61,677.08 582.39,676.12 588.18,669.37 595.88,666.48 601.66,670.34 609.37,670.34 614.19,667.45 620.93,671.3 624.79,665.52 630.57,659.74 636.35,647.21 640.2,643.36 644.06,650.1 646.95,651.07 651.77,643.36 655.62,628.91 659.47,636.61 663.33,638.54 667.18,645.28 669.49,650.1 672,663.59"/>
</g>
<text class="tk" x="59.2" y="763.5" text-anchor="end">-20</text>
<text class="tk" x="59.2" y="730.78" text-anchor="end">-10</text>
<text class="tk" x="57" y="698.06" text-anchor="end">0</text>
<text class="tk" x="57" y="665.34" text-anchor="end">10</text>
<text class="tk" x="57" y="632.62" text-anchor="end">20</text>
<text class="tk" x="57" y="599.9" text-anchor="end">30</text>
<text class="tk" x="62" y="773.5" text-anchor="middle">0</text>
<text class="tk" x="186.62" y="773.5" text-anchor="middle">50</text>
<text class="tk" x="308.04" y="773.5" text-anchor="middle">100</text>
<text class="tk" x="429.46" y="773.5" text-anchor="middle">150</text>
<text class="tk" x="550.88" y="773.5" text-anchor="middle">200</text>
<text class="tk" x="671" y="773.5" text-anchor="middle">250</text>
<text class="lb" transform="translate(19.2,674.6) rotate(-90)" letter-spacing="0" text-anchor="middle">X (cm)</text>
<line class="gr" x1="184.88" y1="778.9" x2="184.88" y2="942.6"/>
<line class="gr" x1="306.26" y1="778.9" x2="306.26" y2="942.6"/>
<line class="gr" x1="427.64" y1="778.9" x2="427.64" y2="942.6"/>
<line class="gr" x1="549.02" y1="778.9" x2="549.02" y2="942.6"/>
<line class="gr" x1="63.5" y1="909.86" x2="670.4" y2="909.86"/>
<line class="gr" x1="63.5" y1="877.12" x2="670.4" y2="877.12"/>
<line class="gr" x1="63.5" y1="844.38" x2="670.4" y2="844.38"/>
<line class="gr" x1="63.5" y1="811.64" x2="670.4" y2="811.64"/>
<line class="ti" x1="63.5" y1="942.6" x2="73.5" y2="942.6"/>
<line class="ti" x1="660.4" y1="942.6" x2="670.4" y2="942.6"/>
<line class="ti" x1="63.5" y1="909.86" x2="73.5" y2="909.86"/>
<line class="ti" x1="660.4" y1="909.86" x2="670.4" y2="909.86"/>
<line class="ti" x1="63.5" y1="877.12" x2="73.5" y2="877.12"/>
<line class="ti" x1="660.4" y1="877.12" x2="670.4" y2="877.12"/>
<line class="ti" x1="63.5" y1="844.38" x2="73.5" y2="844.38"/>
<line class="ti" x1="660.4" y1="844.38" x2="670.4" y2="844.38"/>
<line class="ti" x1="63.5" y1="811.64" x2="73.5" y2="811.64"/>
<line class="ti" x1="660.4" y1="811.64" x2="670.4" y2="811.64"/>
<line class="ti" x1="63.5" y1="778.9" x2="73.5" y2="778.9"/>
<line class="ti" x1="660.4" y1="778.9" x2="670.4" y2="778.9"/>
<line class="ti" x1="63.5" y1="926.23" x2="68.5" y2="926.23"/>
<line class="ti" x1="665.4" y1="926.23" x2="670.4" y2="926.23"/>
<line class="ti" x1="63.5" y1="893.49" x2="68.5" y2="893.49"/>
<line class="ti" x1="665.4" y1="893.49" x2="670.4" y2="893.49"/>
<line class="ti" x1="63.5" y1="860.75" x2="68.5" y2="860.75"/>
<line class="ti" x1="665.4" y1="860.75" x2="670.4" y2="860.75"/>
<line class="ti" x1="63.5" y1="828.01" x2="68.5" y2="828.01"/>
<line class="ti" x1="665.4" y1="828.01" x2="670.4" y2="828.01"/>
<line class="ti" x1="63.5" y1="795.27" x2="68.5" y2="795.27"/>
<line class="ti" x1="665.4" y1="795.27" x2="670.4" y2="795.27"/>
<line class="ti" x1="63.5" y1="942.6" x2="63.5" y2="937.6"/>
<line class="ti" x1="63.5" y1="778.9" x2="63.5" y2="783.9"/>
<line class="ti" x1="124.19" y1="942.6" x2="124.19" y2="939.9"/>
<line class="ti" x1="124.19" y1="778.9" x2="124.19" y2="781.6"/>
<line class="ti" x1="184.88" y1="942.6" x2="184.88" y2="937.6"/>
<line class="ti" x1="184.88" y1="778.9" x2="184.88" y2="783.9"/>
<line class="ti" x1="245.57" y1="942.6" x2="245.57" y2="939.9"/>
<line class="ti" x1="245.57" y1="778.9" x2="245.57" y2="781.6"/>
<line class="ti" x1="306.26" y1="942.6" x2="306.26" y2="937.6"/>
<line class="ti" x1="306.26" y1="778.9" x2="306.26" y2="783.9"/>
<line class="ti" x1="366.95" y1="942.6" x2="366.95" y2="939.9"/>
<line class="ti" x1="366.95" y1="778.9" x2="366.95" y2="781.6"/>
<line class="ti" x1="427.64" y1="942.6" x2="427.64" y2="937.6"/>
<line class="ti" x1="427.64" y1="778.9" x2="427.64" y2="783.9"/>
<line class="ti" x1="488.33" y1="942.6" x2="488.33" y2="939.9"/>
<line class="ti" x1="488.33" y1="778.9" x2="488.33" y2="781.6"/>
<line class="ti" x1="549.02" y1="942.6" x2="549.02" y2="937.6"/>
<line class="ti" x1="549.02" y1="778.9" x2="549.02" y2="783.9"/>
<line class="ti" x1="609.71" y1="942.6" x2="609.71" y2="939.9"/>
<line class="ti" x1="609.71" y1="778.9" x2="609.71" y2="781.6"/>
<line class="ti" x1="670.4" y1="942.6" x2="670.4" y2="937.6"/>
<line class="ti" x1="670.4" y1="778.9" x2="670.4" y2="783.9"/>
<rect class="fr" x="63.5" y="778.9" width="606.9" height="163.7"/>
<g clip-path="url(#c4)">
<clipPath id="c4"><rect x="63.5" y="778.9" width="606.9" height="163.7"/></clipPath>
<polyline class="t" points="63.5,811.6 180,811.6 187.59,812.39 189.49,815.62 206.57,815.62 208.47,816.95 214.16,816.95 216.06,819.42 230.29,819.42 233.14,818.09 244.53,818.09 246.42,818.85 268.25,818.85 269.2,814.67 286.28,814.67 289.12,818.85 297.66,818.85 299.56,820.36 306.2,820.36 306.64,820.36 309.49,825.11 336.06,825.11 338.91,822.26 344.6,822.26 347.45,818.09 361.68,818.09 364.53,821.88 372.12,821.88 374.01,818.09 381.61,818.09 383.5,822.26 392.99,822.26 395.84,820.36 411.97,820.36 413.87,822.26 425.26,822.26 427.15,827.58 427.59,828.03 432.34,828.03 435.18,837.52 438.03,837.52 439.93,828.03 442.77,828.03 445.62,835.62 449.42,844.16 452.26,845.11 454.16,838.47 456.06,836.57 457.96,844.16 461.75,847.96 465.55,853.65 469.34,861.24 472.19,860.29 475.04,852.7 477.88,853.65 480.73,860.29 484.53,854.6 488.32,849.85 492.12,843.21 494.96,843.21 497.81,850.8 501.61,852.7 504.45,861.24 507.3,870.73 509.2,870.73 512.99,863.14 517.74,857.45 522.48,864.09 525.33,866.93 528.18,873.58 530.07,873.58 532.92,866.93 535.77,866.93 538.61,860.29 542.41,854.6 542.89,854.92 546.74,860.7 548.67,860.7 551.56,870.34 554.45,870.34 558.31,855.88 561.2,863.59 563.12,872.26 566.01,861.66 568.91,871.3 571.8,867.45 575.65,875.15 580.47,862.63 583.36,869.37 590.1,849.14 592.99,857.81 597.81,846.25 602.63,826.01 605.52,838.54 608.41,850.1 611.3,857.81 614.19,850.1 617.08,840.47 619.97,835.65 622.86,842.39 626.72,830.83 629.61,838.54 632.5,844.32 635.39,832.76 638.28,824.09 641.17,832.76 645.02,834.69 648.88,821.2 651.77,827.94 655.62,814.45 658.51,821.2 660.44,816.38 663.33,826.01 666.22,827.94 669.49,814.45 672,817.34"/>
<polyline class="o" points="63.5,811.6 180,811.6 186.64,811.82 189.49,812.39 197.08,812.39 200.88,812.77 206.57,813.15 210.36,814.67 215.11,816.19 221.75,816.57 227.45,815.05 232.19,814.67 238.83,816.19 244.53,816.19 250.22,814.67 255.91,814.67 261.61,815.05 267.3,815.62 272.99,817.52 278.69,820.36 283.43,821.88 288.18,821.31 293.87,824.16 297.66,823.21 301.46,821.31 306.2,822.64 307.59,827.01 311.39,826.06 315.18,828.91 320.88,828.91 325.62,829.85 330.36,829.47 334.16,826.06 339.85,825.68 343.65,822.26 346.5,819.42 351.24,816.57 356.93,815.62 362.63,816.19 366.42,819.42 370.22,818.47 373.07,819.42 375.91,822.26 379.71,823.21 383.5,820.36 388.25,821.31 392.04,824.16 396.79,825.11 401.53,824.54 406.28,824.16 410.07,822.26 413.87,820.36 421.46,820.36 426.2,820.36 426.64,823.28 431.39,822.34 434.23,821.39 437.08,834.67 439.93,838.47 443.72,826.13 445.62,832.77 448.47,836.57 451.31,844.16 454.16,847.96 456.06,831.82 458.91,838.47 461.75,842.26 464.6,845.11 467.45,849.85 469.34,854.6 473.14,847.01 477.88,849.85 481.68,850.8 485.47,847.01 488.32,843.21 492.12,847.96 495.91,848.91 499.71,847.96 503.5,855.55 507.3,861.24 510.15,864.09 512.99,855.55 515.84,855.55 518.69,852.7 522.48,858.39 525.33,864.09 529.12,866.93 531.97,870.73 534.82,874.53 537.66,864.09 541.46,849.85 542.89,844.32 545.78,852.99 549.64,857.81 552.53,865.52 555.42,868.41 559.27,861.66 563.12,878.04 566.01,869.37 568.91,864.55 571.8,871.3 574.69,873.23 578.54,870.34 582.39,871.3 587.21,865.52 591.07,855.88 593.96,859.74 597.81,848.18 600.7,838.54 603.59,822.16 606.48,832.76 609.37,840.47 613.23,851.07 616.12,837.58 619.01,830.83 621.9,840.47 625.75,823.12 629.61,837.58 633.46,846.25 637.31,835.65 641.17,829.87 645.02,836.61 647.91,828.91 651.77,822.16 654.66,816.38 657.55,825.05 661.4,815.42 665.26,822.16 668.15,819.27 672,827.94"/>
<polyline class="r" points="63.5,807.72 67.38,814.95 71.27,814.97 75.15,809.22 79.03,815.51 82.92,808.75 86.8,814.11 90.68,809.03 94.57,814.68 98.45,810 102.34,814.86 106.22,808.01 110.1,813.68 113.99,808.23 117.87,815.01 121.75,809.34 125.64,809.83 129.52,809.32 133.4,813.61 137.29,807.99 141.17,814.49 145.05,809.35 148.94,814.84 152.82,808.93 156.7,813.37 160.59,815.33 164.47,808.06 168.36,813.85 172.24,809.89 176.12,814.23 180.01,808.9 183.89,813.41 185.69,811.82 189.49,818.47 192.34,822.26 194.23,826.76 196.13,826.06 198.03,823.07 199.93,823.21 201.82,826.03 203.72,824.16 205.62,824.83 207.52,827.96 209.42,831.06 211.31,828.91 214.16,827.01 217.01,831.75 218.91,829.03 220.8,830.8 223.18,833.98 225.55,832.7 227.92,833.41 230.29,829.85 232.19,827.19 234.09,827.96 235.99,828.74 237.88,825.11 239.78,824.11 241.68,827.01 243.58,829.1 245.47,827.96 247.37,823.95 249.27,824.16 251.64,826.79 254.01,825.11 256.86,829.85 258.76,826.85 260.66,828.91 263.03,831.24 265.4,829.85 267.3,829.24 269.2,825.11 271.09,823.78 272.99,819.42 274.89,820.52 276.79,824.16 278.69,825.7 280.58,822.26 283.43,818.15 286.28,818.47 288.18,820.42 290.07,827.96 291.97,829.99 293.87,827.96 295.77,827.1 297.66,829.85 299.56,832.26 301.46,831.75 303.83,831.84 306.2,834.6 307.59,838.39 309.49,837.24 311.39,833.65 313.28,834.91 315.18,839.34 317.08,839.64 318.98,835.55 320.88,832.86 322.77,834.6 325.62,838.39 327.52,842.35 329.42,842.19 331.31,840.97 333.21,843.14 335.11,843.55 337.01,839.34 338.91,841.02 340.8,837.45 343.65,832.7 346.5,825.11 349.34,824.16 351.24,821.66 353.14,823.21 355.04,826.53 356.93,825.11 358.83,826.24 360.73,829.85 362.63,828.34 364.53,829.85 366.42,832.25 368.32,830.8 371.17,834.6 374.01,827.01 376.86,823.21 379.71,822.26 382.55,827.96 384.45,832.7 386.82,830.58 389.2,832.7 391.09,834.25 392.99,830.8 394.89,830.06 396.79,832.7 398.69,833.06 400.58,827.96 402.48,827.3 404.38,831.75 406.28,835 408.18,833.65 410.07,832.66 411.97,834.6 413.87,837.03 415.77,836.5 417.66,834.01 419.56,834.6 421.93,836.67 424.31,835.55 427.15,839.34 427.59,842.26 429.49,841.4 431.39,843.21 433.28,847.82 435.18,849.85 437.08,847.81 438.98,848.91 440.88,850.01 442.77,847.96 445.15,846.92 447.52,849.85 449.42,865.04 451.31,878.32 454.16,861.24 457.01,856.5 459.85,861.24 461.75,870.5 463.65,874.53 466.02,873.64 468.39,876.42 470.77,882.46 473.14,883.07 475.04,882.18 476.93,884.96 478.83,889.14 480.73,889.71 483.58,868.83 485.47,865.7 487.37,866.93 490.22,877.37 492.12,876.21 494.01,869.78 495.91,869.44 497.81,872.63 499.71,879.56 501.61,881.17 503.98,884.69 506.35,890.66 508.72,896.34 511.09,898.25 512.99,896.02 514.89,897.3 516.79,890.82 518.69,886.86 520.58,890.23 522.48,890.66 524.38,892.29 526.28,897.3 528.18,905.27 530.07,908.69 531.97,909.63 533.87,914.38 535.77,912.11 537.66,904.89 539.56,898.83 541.46,896.35 543.85,884.79 546.26,892.12 548.67,894.42 551.08,895.96 553.49,900.2 556.38,891.31 559.27,879.01 561.2,880.01 563.12,884.79 565.05,890.22 566.98,900.2 569.39,896.09 571.8,896.35 573.72,903.76 575.65,906.95 577.58,896.62 579.5,890.57 582.39,911.77 584.32,905.78 586.25,894.42 588.66,886.97 591.07,884.79 593.47,880.54 595.88,873.23 598.77,862.04 601.66,855.88 603.59,858.28 605.52,855.88 608.41,868.41 610.34,873.24 612.26,880.93 614.67,873.51 617.08,863.59 619.01,863.07 620.93,859.74 623.34,851.31 625.75,845.28 628.64,850.1 631.53,857.81 633.46,851.79 635.39,841.43 637.8,835.78 640.2,832.76 643.09,840.73 645.99,852.03 647.91,850.5 649.84,844.32 651.77,846.39 653.69,844.32 655.62,833.78 657.55,826.98 659.47,832.91 661.4,835.65 663.33,834.71 665.26,838.54 667.38,833.36 669.49,823.12 672,826.98"/>
<polyline class="v" points="63.5,811.6 180,811.6 186.64,811.82 189.49,808.98 208.47,808.98 211.31,811.82 215.11,812.77 225.55,812.77 229.34,808.98 234.09,808.03 238.83,805.18 243.58,804.23 246.42,808.03 254.01,808.98 259.71,812.77 271.09,808.98 286.28,808.98 291.97,805.18 296.72,808.03 301.46,808.98 305.26,811.82 307.59,809.93 311.39,815.62 318.98,816.57 322.77,819.42 328.47,818.47 334.16,816.57 341.75,816.57 345.55,811.82 351.24,811.26 356.93,810.88 362.63,809.93 375.91,808.98 387.3,808.03 391.09,808.98 392.99,813.72 402.48,814.67 410.07,813.72 413.87,815.62 421.46,815.62 425.26,819.42 429.49,823.28 434.23,825.18 438.98,829.93 442.77,829.93 446.57,833.72 449.42,843.21 454.16,845.11 457.96,847.96 461.75,854.6 467.45,858.39 472.19,862.19 476.93,867.88 484.53,867.88 492.12,866.93 499.71,865.99 503.5,870.73 507.3,874.53 511.09,881.17 516.79,882.12 522.48,886.86 528.18,891.61 535.77,891.61 541.46,884.01 547.71,883.82 551.56,884.79 554.45,888.64 557.34,888.64 561.2,890.57 565.05,885.75 570.83,885.75 575.65,894.42 581.43,892.5 587.21,889.61 592.99,884.79 597.81,879.01 601.66,876.12 606.48,861.66 610.34,866.48 612.26,876.12 619.01,876.12 622.86,869.37 625.75,855.88 628.64,855.88 631.53,867.45 636.35,867.45 640.2,855.88 647.91,854.92 653.69,852.03 656.58,846.25 661.4,834.69 665.26,831.8 669.49,834.69 672,838.54"/>
</g>
<text class="tk" x="58.5" y="948.9" text-anchor="end">-40</text>
<text class="tk" x="58.5" y="916.16" text-anchor="end">-30</text>
<text class="tk" x="58.5" y="883.42" text-anchor="end">-20</text>
<text class="tk" x="58.5" y="850.68" text-anchor="end">-10</text>
<text class="tk" x="56.3" y="817.94" text-anchor="end">0</text>
<text class="tk" x="56.3" y="785.2" text-anchor="end">10</text>
<text class="tk" x="61.3" y="958.9" text-anchor="middle">0</text>
<text class="tk" x="183.78" y="958.9" text-anchor="middle">50</text>
<text class="tk" x="305.16" y="958.9" text-anchor="middle">100</text>
<text class="tk" x="426.54" y="958.9" text-anchor="middle">150</text>
<text class="tk" x="547.92" y="958.9" text-anchor="middle">200</text>
<text class="tk" x="670.4" y="958.9" text-anchor="middle">250</text>
<text class="lb" transform="translate(19.2,860.2) rotate(-90)" letter-spacing="0" text-anchor="middle">Y (cm)</text>
<line class="gr" x1="184.34" y1="964.4" x2="184.34" y2="1128.1"/>
<line class="gr" x1="305.68" y1="964.4" x2="305.68" y2="1128.1"/>
<line class="gr" x1="427.02" y1="964.4" x2="427.02" y2="1128.1"/>
<line class="gr" x1="548.36" y1="964.4" x2="548.36" y2="1128.1"/>
<line class="gr" x1="63" y1="1095.36" x2="669.7" y2="1095.36"/>
<line class="gr" x1="63" y1="1062.62" x2="669.7" y2="1062.62"/>
<line class="gr" x1="63" y1="1029.88" x2="669.7" y2="1029.88"/>
<line class="gr" x1="63" y1="997.14" x2="669.7" y2="997.14"/>
<line class="ti" x1="63" y1="1128.1" x2="73" y2="1128.1"/>
<line class="ti" x1="659.7" y1="1128.1" x2="669.7" y2="1128.1"/>
<line class="ti" x1="63" y1="1095.36" x2="73" y2="1095.36"/>
<line class="ti" x1="659.7" y1="1095.36" x2="669.7" y2="1095.36"/>
<line class="ti" x1="63" y1="1062.62" x2="73" y2="1062.62"/>
<line class="ti" x1="659.7" y1="1062.62" x2="669.7" y2="1062.62"/>
<line class="ti" x1="63" y1="1029.88" x2="73" y2="1029.88"/>
<line class="ti" x1="659.7" y1="1029.88" x2="669.7" y2="1029.88"/>
<line class="ti" x1="63" y1="997.14" x2="73" y2="997.14"/>
<line class="ti" x1="659.7" y1="997.14" x2="669.7" y2="997.14"/>
<line class="ti" x1="63" y1="964.4" x2="73" y2="964.4"/>
<line class="ti" x1="659.7" y1="964.4" x2="669.7" y2="964.4"/>
<line class="ti" x1="63" y1="1111.73" x2="68" y2="1111.73"/>
<line class="ti" x1="664.7" y1="1111.73" x2="669.7" y2="1111.73"/>
<line class="ti" x1="63" y1="1078.99" x2="68" y2="1078.99"/>
<line class="ti" x1="664.7" y1="1078.99" x2="669.7" y2="1078.99"/>
<line class="ti" x1="63" y1="1046.25" x2="68" y2="1046.25"/>
<line class="ti" x1="664.7" y1="1046.25" x2="669.7" y2="1046.25"/>
<line class="ti" x1="63" y1="1013.51" x2="68" y2="1013.51"/>
<line class="ti" x1="664.7" y1="1013.51" x2="669.7" y2="1013.51"/>
<line class="ti" x1="63" y1="980.77" x2="68" y2="980.77"/>
<line class="ti" x1="664.7" y1="980.77" x2="669.7" y2="980.77"/>
<line class="ti" x1="63" y1="1128.1" x2="63" y2="1123.1"/>
<line class="ti" x1="63" y1="964.4" x2="63" y2="969.4"/>
<line class="ti" x1="123.67" y1="1128.1" x2="123.67" y2="1125.4"/>
<line class="ti" x1="123.67" y1="964.4" x2="123.67" y2="967.1"/>
<line class="ti" x1="184.34" y1="1128.1" x2="184.34" y2="1123.1"/>
<line class="ti" x1="184.34" y1="964.4" x2="184.34" y2="969.4"/>
<line class="ti" x1="245.01" y1="1128.1" x2="245.01" y2="1125.4"/>
<line class="ti" x1="245.01" y1="964.4" x2="245.01" y2="967.1"/>
<line class="ti" x1="305.68" y1="1128.1" x2="305.68" y2="1123.1"/>
<line class="ti" x1="305.68" y1="964.4" x2="305.68" y2="969.4"/>
<line class="ti" x1="366.35" y1="1128.1" x2="366.35" y2="1125.4"/>
<line class="ti" x1="366.35" y1="964.4" x2="366.35" y2="967.1"/>
<line class="ti" x1="427.02" y1="1128.1" x2="427.02" y2="1123.1"/>
<line class="ti" x1="427.02" y1="964.4" x2="427.02" y2="969.4"/>
<line class="ti" x1="487.69" y1="1128.1" x2="487.69" y2="1125.4"/>
<line class="ti" x1="487.69" y1="964.4" x2="487.69" y2="967.1"/>
<line class="ti" x1="548.36" y1="1128.1" x2="548.36" y2="1123.1"/>
<line class="ti" x1="548.36" y1="964.4" x2="548.36" y2="969.4"/>
<line class="ti" x1="609.03" y1="1128.1" x2="609.03" y2="1125.4"/>
<line class="ti" x1="609.03" y1="964.4" x2="609.03" y2="967.1"/>
<line class="ti" x1="669.7" y1="1128.1" x2="669.7" y2="1123.1"/>
<line class="ti" x1="669.7" y1="964.4" x2="669.7" y2="969.4"/>
<rect class="fr" x="63" y="964.4" width="606.7" height="163.7"/>
<g clip-path="url(#c5)">
<clipPath id="c5"><rect x="63" y="964.4" width="606.7" height="163.7"/></clipPath>
<polyline class="t" points="63,1095.4 180,1095.4 195.18,1095.11 198.03,1093.21 220.8,1093.21 223.65,1088.47 230.29,1088.47 232.19,1091.31 238.83,1091.31 240.73,1089.42 248.32,1089.42 250.22,1090.36 257.81,1090.36 259.71,1092.64 273.94,1092.64 276.79,1090.36 286.28,1090.36 289.12,1086.57 303.36,1086.57 306.2,1089.42 315.18,1090.55 318.98,1088.27 332.26,1088.27 334.16,1085.8 358.83,1085.8 361.68,1083.91 383.5,1083.91 385.4,1079.16 400.58,1079.16 403.43,1076.31 410.07,1076.31 411.97,1079.54 417.66,1079.54 420.51,1077.64 432.34,1077.3 435.18,1066.86 438.98,1063.07 440.88,1062.12 444.67,1067.81 447.52,1067.81 450.36,1077.3 453.21,1064.01 456.06,1064.01 458.91,1074.45 461.75,1073.5 464.6,1065.91 467.45,1062.12 470.29,1056.42 472.19,1056.42 475.04,1049.78 476.93,1044.09 479.78,1042.19 482.63,1036.5 485.47,1036.5 487.37,1045.99 490.22,1045.99 492.12,1037.45 494.96,1037.45 497.81,1034.6 500.66,1038.39 502.55,1043.14 507.3,1043.14 510.15,1040.29 512.99,1033.65 515.84,1038.39 518.69,1039.34 521.53,1045.04 524.38,1048.83 527.23,1056.42 530.07,1055.47 532.92,1046.93 535.77,1052.63 538.61,1052.63 541.46,1057.37 542.89,1059.5 545.78,1069.14 548.67,1072.03 552.53,1084.55 555.42,1074.92 559.27,1066.25 563.12,1053.72 566.01,1060.47 568.91,1070.1 572.76,1083.59 575.65,1079.74 578.54,1074.92 581.43,1083.59 584.32,1077.81 588.18,1081.66 591.07,1086.48 593.96,1093.23 595.88,1089.37 597.81,1094.19 600.7,1083.59 603.59,1078.77 606.48,1083.59 609.37,1090.34 612.26,1085.52 616.12,1102.86 619.01,1094.19 621.9,1088.41 624.79,1096.12 627.68,1091.3 630.57,1086.48 634.42,1074.92 637.31,1079.74 640.2,1086.48 644.06,1079.74 647.91,1078.77 651.77,1069.14 655.62,1072.99 658.51,1071.07 661.4,1069.14 664.29,1064.32 667.18,1056.61 669.49,1050.83 672,1048.91"/>
<polyline class="o" points="63,1095.4 180,1095.4 193.28,1095.11 197.08,1094.54 206.57,1094.16 210.36,1096.06 219.85,1096.06 225.55,1091.31 233.14,1091.31 238.83,1092.64 244.53,1091.88 248.32,1091.88 252.12,1088.47 259.71,1089.42 265.4,1089.42 272.99,1088.47 278.69,1087.52 284.38,1085.62 290.07,1084.67 295.77,1083.72 303.36,1083.72 306.2,1088.47 307.59,1087.7 311.39,1089.03 317.08,1086.37 322.77,1085.23 328.47,1085.8 332.26,1084.85 337.96,1082.58 345.55,1082.96 351.24,1082.96 356.93,1082.01 360.73,1081.06 368.32,1080.11 372.12,1080.11 379.71,1080.68 383.5,1082.01 387.3,1081.06 392.99,1081.06 396.79,1082.01 402.48,1080.11 406.28,1079.16 411.97,1079.16 415.77,1078.21 419.56,1080.11 425.26,1081.06 427.59,1081.09 431.39,1080.15 435.18,1069.71 438.03,1071.61 441.82,1064.96 444.67,1065.91 447.52,1065.91 449.42,1082.99 452.26,1077.3 455.11,1063.07 457.96,1078.25 460.8,1075.4 463.65,1071.61 466.5,1064.01 469.34,1057.37 472.19,1055.47 475.99,1048.83 477.88,1036.5 481.68,1041.24 484.53,1030.8 487.37,1046.93 490.22,1050.73 492.12,1035.55 494.96,1037.45 499.71,1038.39 503.5,1040.29 507.3,1040.29 510.15,1047.88 512.99,1041.24 516.79,1042.19 519.64,1045.99 522.48,1049.78 525.33,1058.32 528.18,1054.53 531.02,1050.73 533.87,1055.47 536.72,1059.27 539.56,1055.47 543.36,1058.32 545.78,1069.14 549.64,1072.99 553.49,1091.3 557.34,1074.92 561.2,1063.36 565.05,1056.61 568.91,1070.1 571.8,1077.81 574.69,1074.92 577.58,1072.03 579.5,1075.88 582.39,1086.48 585.28,1077.81 588.18,1087.45 591.07,1094.19 594.92,1099.97 597.81,1089.37 600.7,1089.37 603.59,1073.96 606.48,1081.66 609.37,1098.04 612.26,1087.45 616.12,1099.97 620.93,1085.52 624.79,1091.3 628.64,1088.41 631.53,1085.52 634.42,1078.77 638.28,1081.66 642.13,1086.48 645.99,1083.59 649.84,1087.45 652.73,1075.88 656.58,1072.03 660.44,1077.81 665.26,1058.54 668.15,1060.47 672,1060.47"/>
<polyline class="r" points="63,1092.81 66.88,1098.01 70.77,1091.75 74.65,1098.76 78.53,1098.14 82.42,1093.58 86.3,1093.73 90.18,1097.32 94.07,1092.76 97.95,1098.22 101.84,1099.35 105.72,1091.7 109.6,1098.64 113.49,1097.41 117.37,1092.69 121.25,1097.63 125.14,1091.6 129.02,1091.71 132.9,1092.88 136.79,1097.91 140.67,1093.61 144.55,1097.94 148.44,1092.5 152.32,1099.02 156.2,1092.7 160.09,1097.82 163.97,1099.32 167.86,1091.61 171.74,1091.84 175.62,1099.15 179.51,1092.75 183.39,1098.19 183.8,1093.21 187.59,1094.16 190.44,1094.5 193.28,1091.31 195.18,1087.17 197.08,1088.47 198.98,1089 200.88,1084.67 202.77,1084.16 204.67,1086.57 206.57,1091.82 208.47,1092.26 211.31,1089.42 213.69,1088.11 216.06,1091.31 217.96,1091.36 219.85,1088.47 222.23,1083.33 224.6,1081.82 226.5,1085.38 228.39,1083.72 230.29,1086.24 232.19,1085.62 234.56,1087.33 236.93,1084.67 238.83,1085.75 240.73,1081.82 243.1,1080.7 245.47,1082.77 247.85,1079.5 250.22,1081.82 252.12,1084.16 254.01,1083.72 255.91,1082.72 257.81,1086.57 259.71,1082.86 261.61,1084.67 263.5,1083.24 265.4,1086.57 267.3,1087.67 269.2,1084.67 271.09,1083.2 272.99,1086.57 274.89,1087.67 276.79,1083.72 278.69,1080.63 280.58,1081.82 283.43,1078.88 286.28,1080.88 289.12,1077.13 291.97,1078.03 294.82,1080.37 297.66,1078.98 300.51,1077.36 303.36,1078.98 306.2,1077.08 307.59,1078.21 309.49,1083.86 311.39,1086.75 313.28,1083.35 315.18,1084.85 317.08,1082.58 318.98,1085.8 320.88,1085.6 322.77,1082.96 324.67,1081.19 326.57,1082.01 328.47,1082.67 330.36,1086.75 332.26,1086.78 334.16,1082.96 336.06,1080.39 337.96,1082.96 340.8,1082.85 343.65,1080.11 346.02,1076.44 348.39,1076.31 351.24,1078.21 353.14,1075.63 355.04,1076.31 356.93,1080.89 358.83,1080.11 360.73,1075.46 362.63,1073.47 364.53,1075.66 366.42,1072.52 369.27,1078.21 371.17,1074.37 373.07,1073.47 374.96,1072.67 376.86,1075.36 378.76,1076.16 380.66,1074.42 382.55,1072.67 384.45,1067.77 386.35,1067.89 388.25,1071.57 390.15,1072.47 392.04,1067.77 394.89,1065.88 396.79,1064.64 398.69,1067.77 400.58,1069.4 402.48,1065.88 404.38,1062.16 406.28,1063.03 408.18,1067.46 410.07,1067.77 411.97,1068.93 413.87,1072.52 415.77,1073.88 417.66,1070.62 419.56,1065.17 421.46,1063.98 423.8,1067.81 425.69,1072.1 427.59,1071.61 429.49,1065.24 431.39,1064.01 433.28,1062.01 435.18,1055.47 437.08,1052.27 438.98,1052.63 441.82,1045.99 444.67,1055.47 446.57,1061.5 448.47,1063.07 451.31,1054.53 454.16,1049.78 457.01,1051.68 459.85,1061.17 461.75,1054.4 463.65,1052.63 466.5,1043.14 468.39,1043.81 470.29,1041.24 473.14,1032.7 475.04,1027.26 476.93,1025.11 478.83,1025.26 480.73,1020.36 482.63,1017.35 484.53,1011.82 487.37,1021.31 490.22,1019.42 492.12,1013.52 494.01,1011.82 495.91,1007.41 497.81,997.59 499.71,1001.58 501.61,1008.98 504.45,1014.68 507.3,1016.57 510.15,1010.34 512.99,1008.03 515.36,1008.32 517.74,1006.13 519.64,1005.4 521.53,1008.03 524.38,1021.31 527.23,1030.8 529.6,1025.17 531.97,1016.57 534.82,1016.57 537.66,1027.96 540,1031.56 541.93,1032.66 543.85,1036.38 545.78,1042.25 547.71,1045.05 550.12,1054.09 552.53,1058.54 555.42,1064.32 557.34,1056.23 559.27,1050.83 561.2,1047.43 563.12,1039.27 565.05,1040.24 566.98,1045.05 568.91,1053.6 570.83,1058.54 573.72,1069.14 575.65,1070.32 577.58,1066.25 580.47,1063.36 582.39,1065.45 584.32,1071.07 586.73,1070.78 589.14,1066.25 592.03,1073.96 593.96,1074.76 595.88,1080.7 598.77,1077.81 601.66,1064.32 604.55,1072.03 606.48,1078.2 608.41,1081.66 610.34,1080.31 612.26,1083.59 614.19,1096.71 616.12,1105.75 619.01,1092.26 620.93,1092.09 622.86,1087.45 624.79,1085.48 626.72,1087.45 628.64,1085.41 630.57,1077.81 632.5,1068.64 634.42,1063.36 636.35,1068.75 638.28,1070.1 640.2,1075.02 642.13,1084.55 644.06,1072.82 645.99,1064.32 647.91,1069.95 649.84,1072.03 652.73,1048.91 655.62,1060.47 657.55,1054.43 659.47,1053.72 661.4,1055.2 663.33,1052.76 665.26,1047.87 667.18,1039.27 669.49,1033.49 672,1031.56"/>
<polyline class="v" points="63,1095.4 180,1095.4 191.39,1095.11 195.18,1093.21 204.67,1091.31 208.47,1088.47 214.16,1088.47 219.85,1083.72 225.55,1082.77 231.24,1084.67 236.93,1082.77 242.63,1081.82 248.32,1080.88 255.91,1080.88 265.4,1080.88 278.69,1080.88 284.38,1081.82 290.07,1084.67 293.87,1084.29 301.46,1086.57 307.15,1086.57 309.49,1088.65 315.18,1089.03 318.98,1094.34 324.67,1095.29 330.36,1095.29 336.06,1096.62 339.85,1095.29 347.45,1094.34 353.14,1092.07 360.73,1091.5 368.32,1090.17 375.91,1090.17 383.5,1090.17 387.3,1087.7 392.99,1084.85 398.69,1084.85 402.48,1080.11 406.28,1073.47 410.07,1065.88 413.87,1069.67 417.66,1067.77 423.36,1064.93 423.8,1064.96 429.49,1064.96 435.18,1065.91 438.98,1060.22 442.77,1053.58 447.52,1052.63 452.26,1059.27 457.01,1059.27 460.8,1061.17 465.55,1066.86 469.34,1062.12 473.14,1061.17 476.93,1056.42 480.73,1054.53 484.53,1046.93 488.32,1034.6 492.12,1030.8 497.81,1027.96 501.61,1027.01 507.3,1023.21 512.04,1021.31 516.79,1025.11 520.58,1027.96 526.28,1032.7 530.07,1035.55 533.87,1036.5 538.61,1032.7 540,1044.09 543.85,1049.87 548.67,1057.58 552.53,1063.36 557.34,1067.21 561.2,1061.43 566.98,1051.8 570.83,1060.47 574.69,1060.47 580.47,1061.43 585.28,1070.1 588.18,1075.88 592.03,1077.81 595.88,1083.59 599.74,1086.48 605.52,1083.59 609.37,1083.59 614.19,1085.52 617.08,1094.19 620.93,1099.01 624.79,1094.19 629.61,1093.23 633.46,1096.12 636.35,1086.48 642.13,1083.59 647.91,1078.77 651.77,1072.99 655.62,1066.25 660.44,1062.39 664.29,1057.58 667.18,1054.69 672,1060.47"/>
</g>
<text class="tk" x="58" y="1134.4" text-anchor="end">-10</text>
<text class="tk" x="55.8" y="1101.66" text-anchor="end">0</text>
<text class="tk" x="55.8" y="1068.92" text-anchor="end">10</text>
<text class="tk" x="55.8" y="1036.18" text-anchor="end">20</text>
<text class="tk" x="55.8" y="1003.44" text-anchor="end">30</text>
<text class="tk" x="55.8" y="970.7" text-anchor="end">40</text>
<text class="tk" x="60.8" y="1144.6" text-anchor="middle">0</text>
<text class="tk" x="182.94" y="1144.6" text-anchor="middle">50</text>
<text class="tk" x="304.28" y="1144.6" text-anchor="middle">100</text>
<text class="tk" x="425.62" y="1144.6" text-anchor="middle">150</text>
<text class="tk" x="546.96" y="1144.6" text-anchor="middle">200</text>
<text class="tk" x="668.75" y="1144.6" text-anchor="middle">250</text>
<text class="lb" transform="translate(15.7,1042.2) rotate(-90)" letter-spacing="0" text-anchor="middle">Z (cm)</text>
<text class="lb" x="366.3" y="1161.3" text-anchor="middle">Frame</text>
</svg></body></html>
